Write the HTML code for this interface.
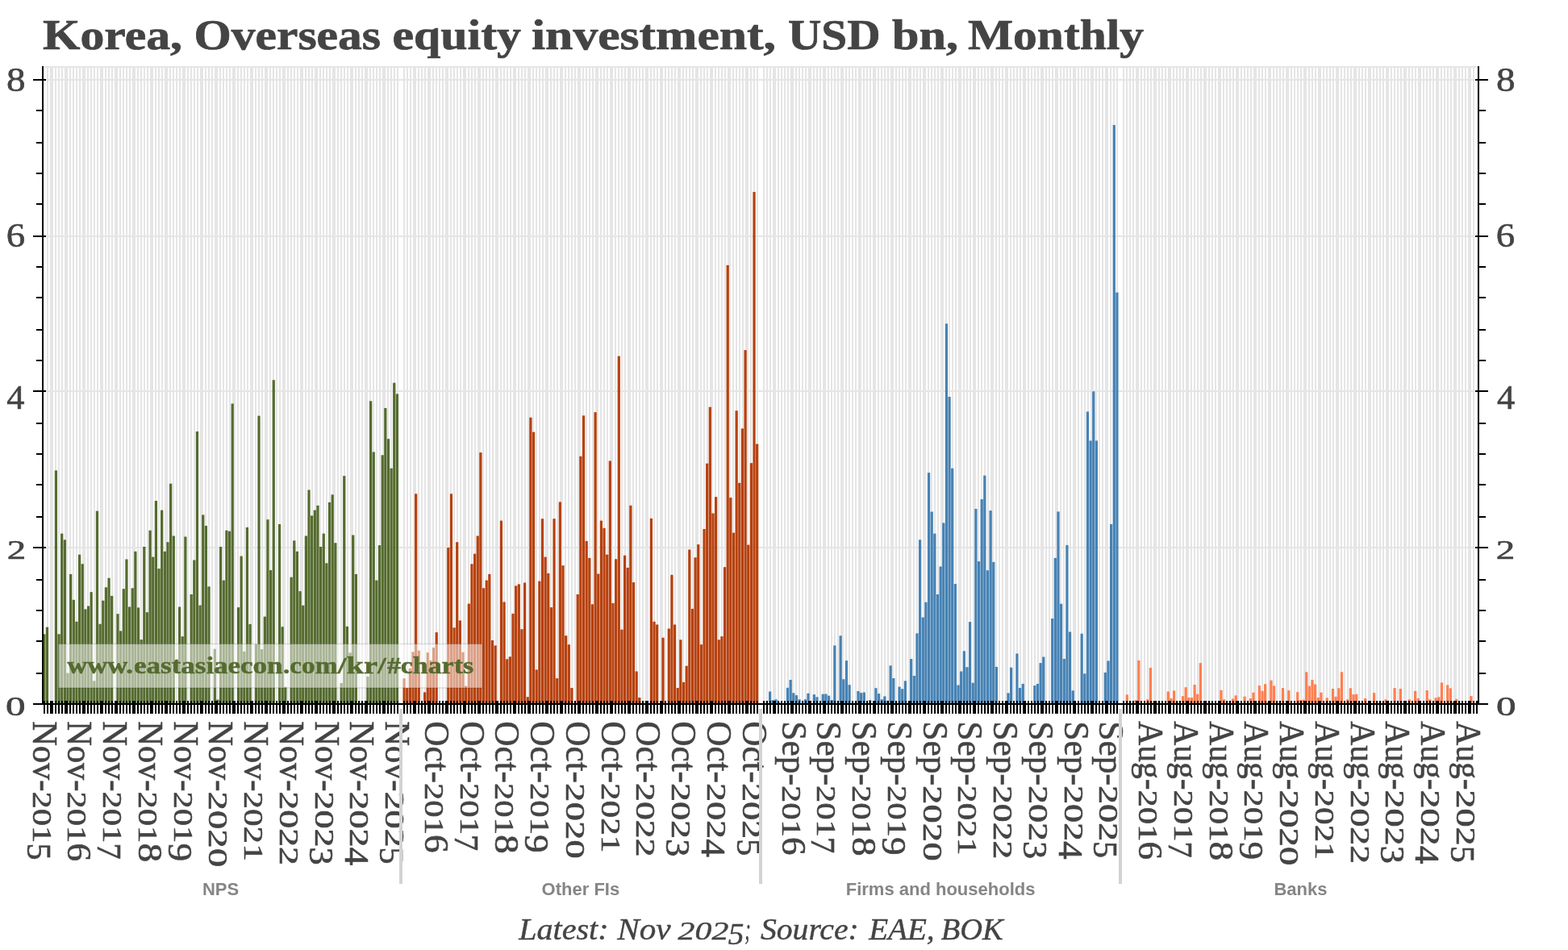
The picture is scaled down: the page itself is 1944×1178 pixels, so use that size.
<!DOCTYPE html>
<html lang="en"><head><meta charset="utf-8"><title>Korea, Overseas equity investment, USD bn, Monthly</title>
<style>html,body{margin:0;padding:0;background:#fff;}body{width:1944px;height:1178px;overflow:hidden;}svg{display:block;}.ser{font-family:"Liberation Serif","DejaVu Serif",serif;}.san{font-family:"Liberation Sans","DejaVu Sans",sans-serif;}</style></head><body>
<svg width="1944" height="1178" viewBox="0 0 1944 1178" role="img" aria-label="Korea, Overseas equity investment, USD bn, Monthly">
<rect width="1944" height="1178" fill="#fff"/>
<g fill="#e5e5e5" shape-rendering="crispEdges">
<rect x="54" y="84" width="2" height="788" fill="#f3f3f3"/>
<rect x="58" y="84" width="2" height="788"/>
<rect x="62" y="84" width="2" height="788"/>
<rect x="64" y="84" width="2" height="788"/>
<rect x="68" y="84" width="2" height="788"/>
<rect x="72" y="84" width="2" height="788"/>
<rect x="76" y="84" width="2" height="788"/>
<rect x="80" y="84" width="2" height="788"/>
<rect x="82" y="84" width="2" height="788"/>
<rect x="86" y="84" width="2" height="788"/>
<rect x="90" y="84" width="2" height="788"/>
<rect x="94" y="84" width="2" height="788"/>
<rect x="98" y="84" width="2" height="788"/>
<rect x="102" y="84" width="2" height="788"/>
<rect x="104" y="84" width="2" height="788"/>
<rect x="108" y="84" width="2" height="788"/>
<rect x="112" y="84" width="2" height="788"/>
<rect x="116" y="84" width="2" height="788"/>
<rect x="120" y="84" width="2" height="788"/>
<rect x="124" y="84" width="2" height="788"/>
<rect x="126" y="84" width="2" height="788"/>
<rect x="130" y="84" width="2" height="788"/>
<rect x="134" y="84" width="2" height="788"/>
<rect x="138" y="84" width="2" height="788"/>
<rect x="142" y="84" width="2" height="788"/>
<rect x="144" y="84" width="2" height="788"/>
<rect x="148" y="84" width="2" height="788"/>
<rect x="152" y="84" width="2" height="788"/>
<rect x="156" y="84" width="2" height="788"/>
<rect x="160" y="84" width="2" height="788"/>
<rect x="164" y="84" width="2" height="788"/>
<rect x="166" y="84" width="2" height="788"/>
<rect x="170" y="84" width="2" height="788"/>
<rect x="174" y="84" width="2" height="788"/>
<rect x="178" y="84" width="2" height="788"/>
<rect x="182" y="84" width="2" height="788"/>
<rect x="186" y="84" width="2" height="788"/>
<rect x="188" y="84" width="2" height="788"/>
<rect x="192" y="84" width="2" height="788"/>
<rect x="196" y="84" width="2" height="788"/>
<rect x="200" y="84" width="2" height="788"/>
<rect x="204" y="84" width="2" height="788"/>
<rect x="206" y="84" width="2" height="788"/>
<rect x="210" y="84" width="2" height="788"/>
<rect x="214" y="84" width="2" height="788"/>
<rect x="218" y="84" width="2" height="788"/>
<rect x="222" y="84" width="2" height="788"/>
<rect x="226" y="84" width="2" height="788"/>
<rect x="228" y="84" width="2" height="788"/>
<rect x="232" y="84" width="2" height="788"/>
<rect x="236" y="84" width="2" height="788"/>
<rect x="240" y="84" width="2" height="788"/>
<rect x="244" y="84" width="2" height="788"/>
<rect x="248" y="84" width="2" height="788"/>
<rect x="250" y="84" width="2" height="788"/>
<rect x="254" y="84" width="2" height="788"/>
<rect x="258" y="84" width="2" height="788"/>
<rect x="262" y="84" width="2" height="788"/>
<rect x="266" y="84" width="2" height="788"/>
<rect x="268" y="84" width="2" height="788"/>
<rect x="272" y="84" width="2" height="788"/>
<rect x="276" y="84" width="2" height="788"/>
<rect x="280" y="84" width="2" height="788"/>
<rect x="284" y="84" width="2" height="788"/>
<rect x="288" y="84" width="2" height="788"/>
<rect x="290" y="84" width="2" height="788"/>
<rect x="294" y="84" width="2" height="788"/>
<rect x="298" y="84" width="2" height="788"/>
<rect x="302" y="84" width="2" height="788"/>
<rect x="306" y="84" width="2" height="788"/>
<rect x="310" y="84" width="2" height="788"/>
<rect x="312" y="84" width="2" height="788"/>
<rect x="316" y="84" width="2" height="788"/>
<rect x="320" y="84" width="2" height="788"/>
<rect x="324" y="84" width="2" height="788"/>
<rect x="328" y="84" width="2" height="788"/>
<rect x="330" y="84" width="2" height="788"/>
<rect x="334" y="84" width="2" height="788"/>
<rect x="338" y="84" width="2" height="788"/>
<rect x="342" y="84" width="2" height="788"/>
<rect x="346" y="84" width="2" height="788"/>
<rect x="350" y="84" width="2" height="788"/>
<rect x="352" y="84" width="2" height="788"/>
<rect x="356" y="84" width="2" height="788"/>
<rect x="360" y="84" width="2" height="788"/>
<rect x="364" y="84" width="2" height="788"/>
<rect x="368" y="84" width="2" height="788"/>
<rect x="372" y="84" width="2" height="788"/>
<rect x="374" y="84" width="2" height="788"/>
<rect x="378" y="84" width="2" height="788"/>
<rect x="382" y="84" width="2" height="788"/>
<rect x="386" y="84" width="2" height="788"/>
<rect x="390" y="84" width="2" height="788"/>
<rect x="392" y="84" width="2" height="788"/>
<rect x="396" y="84" width="2" height="788"/>
<rect x="400" y="84" width="2" height="788"/>
<rect x="404" y="84" width="2" height="788"/>
<rect x="408" y="84" width="2" height="788"/>
<rect x="412" y="84" width="2" height="788"/>
<rect x="414" y="84" width="2" height="788"/>
<rect x="418" y="84" width="2" height="788"/>
<rect x="422" y="84" width="2" height="788"/>
<rect x="426" y="84" width="2" height="788"/>
<rect x="430" y="84" width="2" height="788"/>
<rect x="434" y="84" width="2" height="788"/>
<rect x="436" y="84" width="2" height="788"/>
<rect x="440" y="84" width="2" height="788"/>
<rect x="444" y="84" width="2" height="788"/>
<rect x="448" y="84" width="2" height="788"/>
<rect x="452" y="84" width="2" height="788"/>
<rect x="454" y="84" width="2" height="788"/>
<rect x="458" y="84" width="2" height="788"/>
<rect x="462" y="84" width="2" height="788"/>
<rect x="466" y="84" width="2" height="788"/>
<rect x="470" y="84" width="2" height="788"/>
<rect x="474" y="84" width="2" height="788"/>
<rect x="476" y="84" width="2" height="788"/>
<rect x="480" y="84" width="2" height="788"/>
<rect x="484" y="84" width="2" height="788"/>
<rect x="488" y="84" width="2" height="788"/>
<rect x="492" y="84" width="2" height="788"/>
<rect x="500" y="84" width="2" height="788"/>
<rect x="504" y="84" width="2" height="788"/>
<rect x="508" y="84" width="2" height="788"/>
<rect x="512" y="84" width="2" height="788"/>
<rect x="514" y="84" width="2" height="788"/>
<rect x="518" y="84" width="2" height="788"/>
<rect x="522" y="84" width="2" height="788"/>
<rect x="526" y="84" width="2" height="788"/>
<rect x="530" y="84" width="2" height="788"/>
<rect x="532" y="84" width="2" height="788"/>
<rect x="536" y="84" width="2" height="788"/>
<rect x="540" y="84" width="2" height="788"/>
<rect x="544" y="84" width="2" height="788"/>
<rect x="548" y="84" width="2" height="788"/>
<rect x="552" y="84" width="2" height="788"/>
<rect x="554" y="84" width="2" height="788"/>
<rect x="558" y="84" width="2" height="788"/>
<rect x="562" y="84" width="2" height="788"/>
<rect x="566" y="84" width="2" height="788"/>
<rect x="570" y="84" width="2" height="788"/>
<rect x="574" y="84" width="2" height="788"/>
<rect x="576" y="84" width="2" height="788"/>
<rect x="580" y="84" width="2" height="788"/>
<rect x="584" y="84" width="2" height="788"/>
<rect x="588" y="84" width="2" height="788"/>
<rect x="592" y="84" width="2" height="788"/>
<rect x="594" y="84" width="2" height="788"/>
<rect x="598" y="84" width="2" height="788"/>
<rect x="602" y="84" width="2" height="788"/>
<rect x="606" y="84" width="2" height="788"/>
<rect x="610" y="84" width="2" height="788"/>
<rect x="614" y="84" width="2" height="788"/>
<rect x="616" y="84" width="2" height="788"/>
<rect x="620" y="84" width="2" height="788"/>
<rect x="624" y="84" width="2" height="788"/>
<rect x="628" y="84" width="2" height="788"/>
<rect x="632" y="84" width="2" height="788"/>
<rect x="636" y="84" width="2" height="788"/>
<rect x="638" y="84" width="2" height="788"/>
<rect x="642" y="84" width="2" height="788"/>
<rect x="646" y="84" width="2" height="788"/>
<rect x="650" y="84" width="2" height="788"/>
<rect x="654" y="84" width="2" height="788"/>
<rect x="656" y="84" width="2" height="788"/>
<rect x="660" y="84" width="2" height="788"/>
<rect x="664" y="84" width="2" height="788"/>
<rect x="668" y="84" width="2" height="788"/>
<rect x="672" y="84" width="2" height="788"/>
<rect x="676" y="84" width="2" height="788"/>
<rect x="678" y="84" width="2" height="788"/>
<rect x="682" y="84" width="2" height="788"/>
<rect x="686" y="84" width="2" height="788"/>
<rect x="690" y="84" width="2" height="788"/>
<rect x="694" y="84" width="2" height="788"/>
<rect x="696" y="84" width="2" height="788"/>
<rect x="700" y="84" width="2" height="788"/>
<rect x="704" y="84" width="2" height="788"/>
<rect x="708" y="84" width="2" height="788"/>
<rect x="712" y="84" width="2" height="788"/>
<rect x="716" y="84" width="2" height="788"/>
<rect x="718" y="84" width="2" height="788"/>
<rect x="722" y="84" width="2" height="788"/>
<rect x="726" y="84" width="2" height="788"/>
<rect x="730" y="84" width="2" height="788"/>
<rect x="734" y="84" width="2" height="788"/>
<rect x="738" y="84" width="2" height="788"/>
<rect x="740" y="84" width="2" height="788"/>
<rect x="744" y="84" width="2" height="788"/>
<rect x="748" y="84" width="2" height="788"/>
<rect x="752" y="84" width="2" height="788"/>
<rect x="756" y="84" width="2" height="788"/>
<rect x="758" y="84" width="2" height="788"/>
<rect x="762" y="84" width="2" height="788"/>
<rect x="766" y="84" width="2" height="788"/>
<rect x="770" y="84" width="2" height="788"/>
<rect x="774" y="84" width="2" height="788"/>
<rect x="778" y="84" width="2" height="788"/>
<rect x="780" y="84" width="2" height="788"/>
<rect x="784" y="84" width="2" height="788"/>
<rect x="788" y="84" width="2" height="788"/>
<rect x="792" y="84" width="2" height="788"/>
<rect x="796" y="84" width="2" height="788"/>
<rect x="800" y="84" width="2" height="788"/>
<rect x="802" y="84" width="2" height="788"/>
<rect x="806" y="84" width="2" height="788"/>
<rect x="810" y="84" width="2" height="788"/>
<rect x="814" y="84" width="2" height="788"/>
<rect x="818" y="84" width="2" height="788"/>
<rect x="820" y="84" width="2" height="788"/>
<rect x="824" y="84" width="2" height="788"/>
<rect x="828" y="84" width="2" height="788"/>
<rect x="832" y="84" width="2" height="788"/>
<rect x="836" y="84" width="2" height="788"/>
<rect x="840" y="84" width="2" height="788"/>
<rect x="842" y="84" width="2" height="788"/>
<rect x="846" y="84" width="2" height="788"/>
<rect x="850" y="84" width="2" height="788"/>
<rect x="854" y="84" width="2" height="788"/>
<rect x="858" y="84" width="2" height="788"/>
<rect x="862" y="84" width="2" height="788"/>
<rect x="864" y="84" width="2" height="788"/>
<rect x="868" y="84" width="2" height="788"/>
<rect x="872" y="84" width="2" height="788"/>
<rect x="876" y="84" width="2" height="788"/>
<rect x="880" y="84" width="2" height="788"/>
<rect x="882" y="84" width="2" height="788"/>
<rect x="886" y="84" width="2" height="788"/>
<rect x="890" y="84" width="2" height="788"/>
<rect x="894" y="84" width="2" height="788"/>
<rect x="898" y="84" width="2" height="788"/>
<rect x="902" y="84" width="2" height="788"/>
<rect x="904" y="84" width="2" height="788"/>
<rect x="908" y="84" width="2" height="788"/>
<rect x="912" y="84" width="2" height="788"/>
<rect x="916" y="84" width="2" height="788"/>
<rect x="920" y="84" width="2" height="788"/>
<rect x="924" y="84" width="2" height="788"/>
<rect x="926" y="84" width="2" height="788"/>
<rect x="930" y="84" width="2" height="788"/>
<rect x="934" y="84" width="2" height="788"/>
<rect x="938" y="84" width="2" height="788"/>
<rect x="946" y="84" width="2" height="788"/>
<rect x="950" y="84" width="2" height="788"/>
<rect x="954" y="84" width="2" height="788"/>
<rect x="958" y="84" width="2" height="788"/>
<rect x="960" y="84" width="2" height="788"/>
<rect x="964" y="84" width="2" height="788"/>
<rect x="968" y="84" width="2" height="788"/>
<rect x="972" y="84" width="2" height="788"/>
<rect x="976" y="84" width="2" height="788"/>
<rect x="980" y="84" width="2" height="788"/>
<rect x="982" y="84" width="2" height="788"/>
<rect x="986" y="84" width="2" height="788"/>
<rect x="990" y="84" width="2" height="788"/>
<rect x="994" y="84" width="2" height="788"/>
<rect x="998" y="84" width="2" height="788"/>
<rect x="1002" y="84" width="2" height="788"/>
<rect x="1004" y="84" width="2" height="788"/>
<rect x="1008" y="84" width="2" height="788"/>
<rect x="1012" y="84" width="2" height="788"/>
<rect x="1016" y="84" width="2" height="788"/>
<rect x="1020" y="84" width="2" height="788"/>
<rect x="1022" y="84" width="2" height="788"/>
<rect x="1026" y="84" width="2" height="788"/>
<rect x="1030" y="84" width="2" height="788"/>
<rect x="1034" y="84" width="2" height="788"/>
<rect x="1038" y="84" width="2" height="788"/>
<rect x="1042" y="84" width="2" height="788"/>
<rect x="1044" y="84" width="2" height="788"/>
<rect x="1048" y="84" width="2" height="788"/>
<rect x="1052" y="84" width="2" height="788"/>
<rect x="1056" y="84" width="2" height="788"/>
<rect x="1060" y="84" width="2" height="788"/>
<rect x="1064" y="84" width="2" height="788"/>
<rect x="1066" y="84" width="2" height="788"/>
<rect x="1070" y="84" width="2" height="788"/>
<rect x="1074" y="84" width="2" height="788"/>
<rect x="1078" y="84" width="2" height="788"/>
<rect x="1082" y="84" width="2" height="788"/>
<rect x="1084" y="84" width="2" height="788"/>
<rect x="1088" y="84" width="2" height="788"/>
<rect x="1092" y="84" width="2" height="788"/>
<rect x="1096" y="84" width="2" height="788"/>
<rect x="1100" y="84" width="2" height="788"/>
<rect x="1104" y="84" width="2" height="788"/>
<rect x="1106" y="84" width="2" height="788"/>
<rect x="1110" y="84" width="2" height="788"/>
<rect x="1114" y="84" width="2" height="788"/>
<rect x="1118" y="84" width="2" height="788"/>
<rect x="1122" y="84" width="2" height="788"/>
<rect x="1126" y="84" width="2" height="788"/>
<rect x="1128" y="84" width="2" height="788"/>
<rect x="1132" y="84" width="2" height="788"/>
<rect x="1136" y="84" width="2" height="788"/>
<rect x="1140" y="84" width="2" height="788"/>
<rect x="1144" y="84" width="2" height="788"/>
<rect x="1146" y="84" width="2" height="788"/>
<rect x="1150" y="84" width="2" height="788"/>
<rect x="1154" y="84" width="2" height="788"/>
<rect x="1158" y="84" width="2" height="788"/>
<rect x="1162" y="84" width="2" height="788"/>
<rect x="1166" y="84" width="2" height="788"/>
<rect x="1168" y="84" width="2" height="788"/>
<rect x="1172" y="84" width="2" height="788"/>
<rect x="1176" y="84" width="2" height="788"/>
<rect x="1180" y="84" width="2" height="788"/>
<rect x="1184" y="84" width="2" height="788"/>
<rect x="1188" y="84" width="2" height="788"/>
<rect x="1190" y="84" width="2" height="788"/>
<rect x="1194" y="84" width="2" height="788"/>
<rect x="1198" y="84" width="2" height="788"/>
<rect x="1202" y="84" width="2" height="788"/>
<rect x="1206" y="84" width="2" height="788"/>
<rect x="1208" y="84" width="2" height="788"/>
<rect x="1212" y="84" width="2" height="788"/>
<rect x="1216" y="84" width="2" height="788"/>
<rect x="1220" y="84" width="2" height="788"/>
<rect x="1224" y="84" width="2" height="788"/>
<rect x="1228" y="84" width="2" height="788"/>
<rect x="1230" y="84" width="2" height="788"/>
<rect x="1234" y="84" width="2" height="788"/>
<rect x="1238" y="84" width="2" height="788"/>
<rect x="1242" y="84" width="2" height="788"/>
<rect x="1246" y="84" width="2" height="788"/>
<rect x="1248" y="84" width="2" height="788"/>
<rect x="1252" y="84" width="2" height="788"/>
<rect x="1256" y="84" width="2" height="788"/>
<rect x="1260" y="84" width="2" height="788"/>
<rect x="1264" y="84" width="2" height="788"/>
<rect x="1268" y="84" width="2" height="788"/>
<rect x="1270" y="84" width="2" height="788"/>
<rect x="1274" y="84" width="2" height="788"/>
<rect x="1278" y="84" width="2" height="788"/>
<rect x="1282" y="84" width="2" height="788"/>
<rect x="1286" y="84" width="2" height="788"/>
<rect x="1290" y="84" width="2" height="788"/>
<rect x="1292" y="84" width="2" height="788"/>
<rect x="1296" y="84" width="2" height="788"/>
<rect x="1300" y="84" width="2" height="788"/>
<rect x="1304" y="84" width="2" height="788"/>
<rect x="1308" y="84" width="2" height="788"/>
<rect x="1310" y="84" width="2" height="788"/>
<rect x="1314" y="84" width="2" height="788"/>
<rect x="1318" y="84" width="2" height="788"/>
<rect x="1322" y="84" width="2" height="788"/>
<rect x="1326" y="84" width="2" height="788"/>
<rect x="1330" y="84" width="2" height="788"/>
<rect x="1332" y="84" width="2" height="788"/>
<rect x="1336" y="84" width="2" height="788"/>
<rect x="1340" y="84" width="2" height="788"/>
<rect x="1344" y="84" width="2" height="788"/>
<rect x="1348" y="84" width="2" height="788"/>
<rect x="1352" y="84" width="2" height="788"/>
<rect x="1354" y="84" width="2" height="788"/>
<rect x="1358" y="84" width="2" height="788"/>
<rect x="1362" y="84" width="2" height="788"/>
<rect x="1366" y="84" width="2" height="788"/>
<rect x="1370" y="84" width="2" height="788"/>
<rect x="1372" y="84" width="2" height="788"/>
<rect x="1376" y="84" width="2" height="788"/>
<rect x="1380" y="84" width="2" height="788"/>
<rect x="1384" y="84" width="2" height="788"/>
<rect x="1392" y="84" width="2" height="788"/>
<rect x="1396" y="84" width="2" height="788"/>
<rect x="1400" y="84" width="2" height="788"/>
<rect x="1404" y="84" width="2" height="788"/>
<rect x="1408" y="84" width="2" height="788"/>
<rect x="1410" y="84" width="2" height="788"/>
<rect x="1414" y="84" width="2" height="788"/>
<rect x="1418" y="84" width="2" height="788"/>
<rect x="1422" y="84" width="2" height="788"/>
<rect x="1426" y="84" width="2" height="788"/>
<rect x="1430" y="84" width="2" height="788"/>
<rect x="1432" y="84" width="2" height="788"/>
<rect x="1436" y="84" width="2" height="788"/>
<rect x="1440" y="84" width="2" height="788"/>
<rect x="1444" y="84" width="2" height="788"/>
<rect x="1448" y="84" width="2" height="788"/>
<rect x="1450" y="84" width="2" height="788"/>
<rect x="1454" y="84" width="2" height="788"/>
<rect x="1458" y="84" width="2" height="788"/>
<rect x="1462" y="84" width="2" height="788"/>
<rect x="1466" y="84" width="2" height="788"/>
<rect x="1470" y="84" width="2" height="788"/>
<rect x="1472" y="84" width="2" height="788"/>
<rect x="1476" y="84" width="2" height="788"/>
<rect x="1480" y="84" width="2" height="788"/>
<rect x="1484" y="84" width="2" height="788"/>
<rect x="1488" y="84" width="2" height="788"/>
<rect x="1492" y="84" width="2" height="788"/>
<rect x="1494" y="84" width="2" height="788"/>
<rect x="1498" y="84" width="2" height="788"/>
<rect x="1502" y="84" width="2" height="788"/>
<rect x="1506" y="84" width="2" height="788"/>
<rect x="1510" y="84" width="2" height="788"/>
<rect x="1512" y="84" width="2" height="788"/>
<rect x="1516" y="84" width="2" height="788"/>
<rect x="1520" y="84" width="2" height="788"/>
<rect x="1524" y="84" width="2" height="788"/>
<rect x="1528" y="84" width="2" height="788"/>
<rect x="1532" y="84" width="2" height="788"/>
<rect x="1534" y="84" width="2" height="788"/>
<rect x="1538" y="84" width="2" height="788"/>
<rect x="1542" y="84" width="2" height="788"/>
<rect x="1546" y="84" width="2" height="788"/>
<rect x="1550" y="84" width="2" height="788"/>
<rect x="1554" y="84" width="2" height="788"/>
<rect x="1556" y="84" width="2" height="788"/>
<rect x="1560" y="84" width="2" height="788"/>
<rect x="1564" y="84" width="2" height="788"/>
<rect x="1568" y="84" width="2" height="788"/>
<rect x="1572" y="84" width="2" height="788"/>
<rect x="1574" y="84" width="2" height="788"/>
<rect x="1578" y="84" width="2" height="788"/>
<rect x="1582" y="84" width="2" height="788"/>
<rect x="1586" y="84" width="2" height="788"/>
<rect x="1590" y="84" width="2" height="788"/>
<rect x="1594" y="84" width="2" height="788"/>
<rect x="1596" y="84" width="2" height="788"/>
<rect x="1600" y="84" width="2" height="788"/>
<rect x="1604" y="84" width="2" height="788"/>
<rect x="1608" y="84" width="2" height="788"/>
<rect x="1612" y="84" width="2" height="788"/>
<rect x="1616" y="84" width="2" height="788"/>
<rect x="1618" y="84" width="2" height="788"/>
<rect x="1622" y="84" width="2" height="788"/>
<rect x="1626" y="84" width="2" height="788"/>
<rect x="1630" y="84" width="2" height="788"/>
<rect x="1634" y="84" width="2" height="788"/>
<rect x="1636" y="84" width="2" height="788"/>
<rect x="1640" y="84" width="2" height="788"/>
<rect x="1644" y="84" width="2" height="788"/>
<rect x="1648" y="84" width="2" height="788"/>
<rect x="1652" y="84" width="2" height="788"/>
<rect x="1656" y="84" width="2" height="788"/>
<rect x="1658" y="84" width="2" height="788"/>
<rect x="1662" y="84" width="2" height="788"/>
<rect x="1666" y="84" width="2" height="788"/>
<rect x="1670" y="84" width="2" height="788"/>
<rect x="1674" y="84" width="2" height="788"/>
<rect x="1678" y="84" width="2" height="788"/>
<rect x="1680" y="84" width="2" height="788"/>
<rect x="1684" y="84" width="2" height="788"/>
<rect x="1688" y="84" width="2" height="788"/>
<rect x="1692" y="84" width="2" height="788"/>
<rect x="1696" y="84" width="2" height="788"/>
<rect x="1698" y="84" width="2" height="788"/>
<rect x="1702" y="84" width="2" height="788"/>
<rect x="1706" y="84" width="2" height="788"/>
<rect x="1710" y="84" width="2" height="788"/>
<rect x="1714" y="84" width="2" height="788"/>
<rect x="1718" y="84" width="2" height="788"/>
<rect x="1720" y="84" width="2" height="788"/>
<rect x="1724" y="84" width="2" height="788"/>
<rect x="1728" y="84" width="2" height="788"/>
<rect x="1732" y="84" width="2" height="788"/>
<rect x="1736" y="84" width="2" height="788"/>
<rect x="1740" y="84" width="2" height="788"/>
<rect x="1742" y="84" width="2" height="788"/>
<rect x="1746" y="84" width="2" height="788"/>
<rect x="1750" y="84" width="2" height="788"/>
<rect x="1754" y="84" width="2" height="788"/>
<rect x="1758" y="84" width="2" height="788"/>
<rect x="1760" y="84" width="2" height="788"/>
<rect x="1764" y="84" width="2" height="788"/>
<rect x="1768" y="84" width="2" height="788"/>
<rect x="1772" y="84" width="2" height="788"/>
<rect x="1776" y="84" width="2" height="788"/>
<rect x="1780" y="84" width="2" height="788"/>
<rect x="1782" y="84" width="2" height="788"/>
<rect x="1786" y="84" width="2" height="788"/>
<rect x="1790" y="84" width="2" height="788"/>
<rect x="1794" y="84" width="2" height="788"/>
<rect x="1798" y="84" width="2" height="788"/>
<rect x="1802" y="84" width="2" height="788"/>
<rect x="1804" y="84" width="2" height="788"/>
<rect x="1808" y="84" width="2" height="788"/>
<rect x="1812" y="84" width="2" height="788"/>
<rect x="1816" y="84" width="2" height="788"/>
<rect x="1820" y="84" width="2" height="788"/>
<rect x="1822" y="84" width="2" height="788"/>
<rect x="1826" y="84" width="2" height="788"/>
<rect x="1830" y="84" width="2" height="788" fill="#f3f3f3"/>
<rect x="54" y="678" width="1778" height="2"/>
<rect x="54" y="484" width="1778" height="2"/>
<rect x="54" y="292" width="1778" height="2"/>
<rect x="54" y="98" width="1778" height="2"/>
<rect x="54" y="82" width="1778" height="2"/>
</g>
<g fill="#556B2F">
<rect x="53.20" y="786.3" width="3.25" height="86.0"/>
<rect x="56.84" y="777.6" width="3.25" height="94.7"/>
<rect x="67.78" y="583.3" width="3.25" height="289.0"/>
<rect x="71.43" y="786.3" width="3.25" height="86.0"/>
<rect x="75.08" y="661.6" width="3.25" height="210.7"/>
<rect x="78.72" y="669.3" width="3.25" height="203.0"/>
<rect x="82.37" y="834.6" width="3.25" height="37.7"/>
<rect x="86.02" y="711.9" width="3.25" height="160.5"/>
<rect x="89.66" y="743.8" width="3.25" height="128.6"/>
<rect x="93.31" y="770.8" width="3.25" height="101.5"/>
<rect x="96.96" y="687.7" width="3.25" height="184.6"/>
<rect x="100.60" y="699.3" width="3.25" height="173.0"/>
<rect x="104.25" y="755.4" width="3.25" height="117.0"/>
<rect x="107.90" y="751.5" width="3.25" height="120.8"/>
<rect x="111.54" y="734.1" width="3.25" height="138.2"/>
<rect x="115.19" y="844.3" width="3.25" height="28.0"/>
<rect x="118.84" y="633.6" width="3.25" height="238.8"/>
<rect x="122.48" y="773.7" width="3.25" height="98.6"/>
<rect x="126.13" y="744.7" width="3.25" height="127.6"/>
<rect x="129.78" y="728.3" width="3.25" height="144.0"/>
<rect x="133.42" y="716.7" width="3.25" height="155.6"/>
<rect x="137.07" y="738.9" width="3.25" height="133.4"/>
<rect x="144.36" y="761.2" width="3.25" height="111.2"/>
<rect x="148.01" y="782.4" width="3.25" height="89.9"/>
<rect x="151.66" y="730.2" width="3.25" height="142.1"/>
<rect x="155.30" y="693.5" width="3.25" height="178.8"/>
<rect x="158.95" y="752.5" width="3.25" height="119.9"/>
<rect x="162.60" y="729.3" width="3.25" height="143.1"/>
<rect x="166.24" y="683.8" width="3.25" height="188.5"/>
<rect x="169.89" y="753.4" width="3.25" height="118.9"/>
<rect x="173.54" y="793.1" width="3.25" height="79.3"/>
<rect x="177.18" y="678.0" width="3.25" height="194.3"/>
<rect x="180.83" y="759.2" width="3.25" height="113.1"/>
<rect x="184.48" y="657.7" width="3.25" height="214.6"/>
<rect x="188.12" y="690.6" width="3.25" height="181.7"/>
<rect x="191.77" y="621.0" width="3.25" height="251.3"/>
<rect x="195.42" y="705.1" width="3.25" height="167.2"/>
<rect x="199.06" y="632.6" width="3.25" height="239.7"/>
<rect x="202.71" y="683.8" width="3.25" height="188.5"/>
<rect x="206.36" y="672.2" width="3.25" height="200.1"/>
<rect x="210.00" y="599.7" width="3.25" height="272.6"/>
<rect x="213.65" y="664.5" width="3.25" height="207.8"/>
<rect x="220.94" y="752.5" width="3.25" height="119.9"/>
<rect x="224.59" y="789.2" width="3.25" height="83.1"/>
<rect x="228.24" y="665.5" width="3.25" height="206.9"/>
<rect x="235.53" y="737.0" width="3.25" height="135.3"/>
<rect x="239.17" y="694.5" width="3.25" height="177.9"/>
<rect x="242.82" y="535.0" width="3.25" height="337.4"/>
<rect x="246.47" y="750.5" width="3.25" height="121.8"/>
<rect x="250.11" y="638.4" width="3.25" height="233.9"/>
<rect x="253.76" y="651.9" width="3.25" height="220.4"/>
<rect x="257.41" y="727.3" width="3.25" height="145.0"/>
<rect x="264.70" y="804.7" width="3.25" height="67.7"/>
<rect x="268.35" y="867.5" width="3.25" height="4.8"/>
<rect x="271.99" y="678.0" width="3.25" height="194.3"/>
<rect x="275.64" y="719.6" width="3.25" height="152.7"/>
<rect x="279.29" y="657.7" width="3.25" height="214.6"/>
<rect x="282.93" y="658.7" width="3.25" height="213.6"/>
<rect x="286.58" y="500.5" width="3.25" height="371.8"/>
<rect x="293.87" y="753.1" width="3.25" height="119.2"/>
<rect x="297.52" y="689.6" width="3.25" height="182.7"/>
<rect x="301.17" y="807.8" width="3.25" height="64.6"/>
<rect x="304.81" y="653.9" width="3.25" height="218.5"/>
<rect x="308.46" y="773.9" width="3.25" height="98.4"/>
<rect x="315.75" y="798.9" width="3.25" height="73.5"/>
<rect x="319.40" y="515.6" width="3.25" height="356.7"/>
<rect x="323.05" y="805.1" width="3.25" height="67.2"/>
<rect x="326.69" y="764.6" width="3.25" height="107.7"/>
<rect x="330.34" y="644.2" width="3.25" height="228.1"/>
<rect x="333.99" y="707.0" width="3.25" height="165.3"/>
<rect x="337.63" y="471.2" width="3.25" height="401.2"/>
<rect x="344.93" y="650.0" width="3.25" height="222.3"/>
<rect x="348.57" y="777.2" width="3.25" height="95.1"/>
<rect x="352.22" y="851.7" width="3.25" height="20.6"/>
<rect x="359.51" y="715.7" width="3.25" height="156.6"/>
<rect x="363.16" y="670.3" width="3.25" height="202.0"/>
<rect x="366.81" y="683.8" width="3.25" height="188.5"/>
<rect x="370.45" y="733.1" width="3.25" height="139.2"/>
<rect x="374.10" y="750.7" width="3.25" height="121.6"/>
<rect x="377.75" y="664.5" width="3.25" height="207.8"/>
<rect x="381.39" y="607.5" width="3.25" height="264.9"/>
<rect x="385.04" y="639.4" width="3.25" height="233.0"/>
<rect x="388.69" y="632.6" width="3.25" height="239.7"/>
<rect x="392.33" y="626.8" width="3.25" height="245.5"/>
<rect x="395.98" y="678.0" width="3.25" height="194.3"/>
<rect x="399.63" y="661.6" width="3.25" height="210.7"/>
<rect x="403.27" y="698.3" width="3.25" height="174.0"/>
<rect x="406.92" y="622.9" width="3.25" height="249.4"/>
<rect x="410.57" y="613.3" width="3.25" height="259.1"/>
<rect x="414.21" y="673.2" width="3.25" height="199.1"/>
<rect x="421.50" y="847.0" width="3.25" height="25.3"/>
<rect x="425.15" y="590.1" width="3.25" height="282.3"/>
<rect x="428.80" y="776.8" width="3.25" height="95.5"/>
<rect x="432.44" y="809.3" width="3.25" height="63.0"/>
<rect x="436.09" y="663.5" width="3.25" height="208.8"/>
<rect x="439.74" y="711.9" width="3.25" height="160.5"/>
<rect x="454.32" y="838.9" width="3.25" height="33.4"/>
<rect x="457.97" y="497.3" width="3.25" height="375.1"/>
<rect x="461.62" y="560.5" width="3.25" height="311.8"/>
<rect x="465.26" y="719.6" width="3.25" height="152.7"/>
<rect x="468.91" y="676.1" width="3.25" height="196.2"/>
<rect x="472.56" y="564.3" width="3.25" height="308.1"/>
<rect x="476.20" y="506.0" width="3.25" height="366.4"/>
<rect x="479.85" y="544.2" width="3.25" height="328.1"/>
<rect x="483.50" y="580.7" width="3.25" height="291.6"/>
<rect x="487.14" y="474.7" width="3.25" height="397.6"/>
<rect x="490.79" y="488.4" width="3.25" height="384.0"/>
</g>
<g fill="#B7410E">
<rect x="499.45" y="841.2" width="3.25" height="31.1"/>
<rect x="503.10" y="853.1" width="3.25" height="19.2"/>
<rect x="506.75" y="828.8" width="3.25" height="43.5"/>
<rect x="510.39" y="808.3" width="3.25" height="64.0"/>
<rect x="514.04" y="612.3" width="3.25" height="260.0"/>
<rect x="517.69" y="806.6" width="3.25" height="65.7"/>
<rect x="524.98" y="858.4" width="3.25" height="13.9"/>
<rect x="528.62" y="809.1" width="3.25" height="63.2"/>
<rect x="532.27" y="818.9" width="3.25" height="53.5"/>
<rect x="535.92" y="803.1" width="3.25" height="69.2"/>
<rect x="539.56" y="784.1" width="3.25" height="88.3"/>
<rect x="554.15" y="679.0" width="3.25" height="193.3"/>
<rect x="557.80" y="612.3" width="3.25" height="260.0"/>
<rect x="561.44" y="778.3" width="3.25" height="94.1"/>
<rect x="565.09" y="672.2" width="3.25" height="200.1"/>
<rect x="568.74" y="769.4" width="3.25" height="103.0"/>
<rect x="572.38" y="808.7" width="3.25" height="63.6"/>
<rect x="576.03" y="850.6" width="3.25" height="21.8"/>
<rect x="579.68" y="748.6" width="3.25" height="123.7"/>
<rect x="583.32" y="699.3" width="3.25" height="173.0"/>
<rect x="586.97" y="686.7" width="3.25" height="185.6"/>
<rect x="590.62" y="664.5" width="3.25" height="207.8"/>
<rect x="594.26" y="561.1" width="3.25" height="311.3"/>
<rect x="597.91" y="729.3" width="3.25" height="143.1"/>
<rect x="601.56" y="719.6" width="3.25" height="152.7"/>
<rect x="605.20" y="711.9" width="3.25" height="160.5"/>
<rect x="608.85" y="794.0" width="3.25" height="78.3"/>
<rect x="612.50" y="800.4" width="3.25" height="71.9"/>
<rect x="619.79" y="645.6" width="3.25" height="226.7"/>
<rect x="623.44" y="746.4" width="3.25" height="126.0"/>
<rect x="627.08" y="817.3" width="3.25" height="55.0"/>
<rect x="630.73" y="814.3" width="3.25" height="58.0"/>
<rect x="634.38" y="760.9" width="3.25" height="111.5"/>
<rect x="638.02" y="726.4" width="3.25" height="146.0"/>
<rect x="641.67" y="724.4" width="3.25" height="147.9"/>
<rect x="645.32" y="780.2" width="3.25" height="92.1"/>
<rect x="648.96" y="722.5" width="3.25" height="149.8"/>
<rect x="652.61" y="864.2" width="3.25" height="8.1"/>
<rect x="656.26" y="517.7" width="3.25" height="354.7"/>
<rect x="659.90" y="535.7" width="3.25" height="336.6"/>
<rect x="663.55" y="830.4" width="3.25" height="42.0"/>
<rect x="667.20" y="720.6" width="3.25" height="151.8"/>
<rect x="670.84" y="643.2" width="3.25" height="229.1"/>
<rect x="674.49" y="690.6" width="3.25" height="181.7"/>
<rect x="678.14" y="710.9" width="3.25" height="161.4"/>
<rect x="681.78" y="753.1" width="3.25" height="119.2"/>
<rect x="685.43" y="643.2" width="3.25" height="229.1"/>
<rect x="689.08" y="841.1" width="3.25" height="31.2"/>
<rect x="692.72" y="622.4" width="3.25" height="249.9"/>
<rect x="696.37" y="701.2" width="3.25" height="171.1"/>
<rect x="700.02" y="788.2" width="3.25" height="84.1"/>
<rect x="703.66" y="799.2" width="3.25" height="73.1"/>
<rect x="707.31" y="853.0" width="3.25" height="19.3"/>
<rect x="714.60" y="737.0" width="3.25" height="135.3"/>
<rect x="718.25" y="565.8" width="3.25" height="306.5"/>
<rect x="721.89" y="515.3" width="3.25" height="357.0"/>
<rect x="725.54" y="670.9" width="3.25" height="201.5"/>
<rect x="729.19" y="691.9" width="3.25" height="180.5"/>
<rect x="732.83" y="749.3" width="3.25" height="123.1"/>
<rect x="736.48" y="511.1" width="3.25" height="361.2"/>
<rect x="740.13" y="711.5" width="3.25" height="160.9"/>
<rect x="743.77" y="645.6" width="3.25" height="226.7"/>
<rect x="747.42" y="654.8" width="3.25" height="217.5"/>
<rect x="751.07" y="687.7" width="3.25" height="184.6"/>
<rect x="754.71" y="571.5" width="3.25" height="300.8"/>
<rect x="758.36" y="747.9" width="3.25" height="124.4"/>
<rect x="762.01" y="693.3" width="3.25" height="179.0"/>
<rect x="765.65" y="441.6" width="3.25" height="430.7"/>
<rect x="769.30" y="780.7" width="3.25" height="91.6"/>
<rect x="772.95" y="688.7" width="3.25" height="183.7"/>
<rect x="776.59" y="703.9" width="3.25" height="168.4"/>
<rect x="780.24" y="626.8" width="3.25" height="245.5"/>
<rect x="783.89" y="722.1" width="3.25" height="150.2"/>
<rect x="787.53" y="832.5" width="3.25" height="39.8"/>
<rect x="791.18" y="865.0" width="3.25" height="7.3"/>
<rect x="805.77" y="642.8" width="3.25" height="229.5"/>
<rect x="809.41" y="770.8" width="3.25" height="101.5"/>
<rect x="813.06" y="774.5" width="3.25" height="97.8"/>
<rect x="820.35" y="790.7" width="3.25" height="81.6"/>
<rect x="827.65" y="779.5" width="3.25" height="92.8"/>
<rect x="831.29" y="712.8" width="3.25" height="159.5"/>
<rect x="834.94" y="774.5" width="3.25" height="97.8"/>
<rect x="838.59" y="853.0" width="3.25" height="19.3"/>
<rect x="842.23" y="793.3" width="3.25" height="79.1"/>
<rect x="845.88" y="845.9" width="3.25" height="26.4"/>
<rect x="849.53" y="825.7" width="3.25" height="46.6"/>
<rect x="853.17" y="681.5" width="3.25" height="190.8"/>
<rect x="856.82" y="754.9" width="3.25" height="117.5"/>
<rect x="860.47" y="691.3" width="3.25" height="181.1"/>
<rect x="864.11" y="675.1" width="3.25" height="197.2"/>
<rect x="867.76" y="799.2" width="3.25" height="73.2"/>
<rect x="871.41" y="656.0" width="3.25" height="216.3"/>
<rect x="875.05" y="574.7" width="3.25" height="297.6"/>
<rect x="878.70" y="504.7" width="3.25" height="367.6"/>
<rect x="882.35" y="636.5" width="3.25" height="235.9"/>
<rect x="885.99" y="616.2" width="3.25" height="256.2"/>
<rect x="889.64" y="793.3" width="3.25" height="79.1"/>
<rect x="893.28" y="789.1" width="3.25" height="83.2"/>
<rect x="896.93" y="703.2" width="3.25" height="169.2"/>
<rect x="900.58" y="328.8" width="3.25" height="543.6"/>
<rect x="904.22" y="617.1" width="3.25" height="255.2"/>
<rect x="907.87" y="660.6" width="3.25" height="211.7"/>
<rect x="911.52" y="509.2" width="3.25" height="363.1"/>
<rect x="915.16" y="598.8" width="3.25" height="273.6"/>
<rect x="918.81" y="531.4" width="3.25" height="340.9"/>
<rect x="922.46" y="434.1" width="3.25" height="438.2"/>
<rect x="926.10" y="675.6" width="3.25" height="196.7"/>
<rect x="929.75" y="574.2" width="3.25" height="298.1"/>
<rect x="933.40" y="238.0" width="3.25" height="634.3"/>
<rect x="937.04" y="550.5" width="3.25" height="321.8"/>
</g>
<g fill="#4682B4">
<rect x="953.00" y="857.5" width="3.25" height="14.8"/>
<rect x="956.65" y="868.2" width="3.25" height="4.2"/>
<rect x="960.29" y="867.2" width="3.25" height="5.1"/>
<rect x="963.94" y="870.9" width="3.25" height="1.5"/>
<rect x="974.88" y="852.8" width="3.25" height="19.5"/>
<rect x="978.53" y="843.0" width="3.25" height="29.3"/>
<rect x="982.17" y="859.3" width="3.25" height="13.1"/>
<rect x="985.82" y="862.1" width="3.25" height="10.2"/>
<rect x="989.47" y="867.2" width="3.25" height="5.1"/>
<rect x="996.76" y="867.2" width="3.25" height="5.1"/>
<rect x="1000.40" y="859.7" width="3.25" height="12.7"/>
<rect x="1007.70" y="861.1" width="3.25" height="11.2"/>
<rect x="1011.34" y="864.3" width="3.25" height="8.0"/>
<rect x="1018.64" y="860.7" width="3.25" height="11.6"/>
<rect x="1022.28" y="860.5" width="3.25" height="11.8"/>
<rect x="1025.93" y="862.7" width="3.25" height="9.7"/>
<rect x="1029.58" y="868.0" width="3.25" height="4.4"/>
<rect x="1033.22" y="800.4" width="3.25" height="71.9"/>
<rect x="1040.52" y="788.3" width="3.25" height="84.0"/>
<rect x="1044.16" y="842.2" width="3.25" height="30.2"/>
<rect x="1047.81" y="819.1" width="3.25" height="53.3"/>
<rect x="1051.46" y="849.2" width="3.25" height="23.1"/>
<rect x="1062.40" y="857.0" width="3.25" height="15.4"/>
<rect x="1066.04" y="859.1" width="3.25" height="13.2"/>
<rect x="1069.69" y="858.5" width="3.25" height="13.8"/>
<rect x="1076.98" y="868.0" width="3.25" height="4.4"/>
<rect x="1084.28" y="853.2" width="3.25" height="19.1"/>
<rect x="1087.92" y="860.1" width="3.25" height="12.2"/>
<rect x="1091.57" y="867.2" width="3.25" height="5.1"/>
<rect x="1095.22" y="863.4" width="3.25" height="8.9"/>
<rect x="1098.86" y="868.8" width="3.25" height="3.6"/>
<rect x="1102.51" y="825.3" width="3.25" height="47.1"/>
<rect x="1106.16" y="841.0" width="3.25" height="31.3"/>
<rect x="1113.45" y="851.6" width="3.25" height="20.7"/>
<rect x="1117.10" y="854.3" width="3.25" height="18.1"/>
<rect x="1120.74" y="844.3" width="3.25" height="28.0"/>
<rect x="1128.04" y="817.1" width="3.25" height="55.2"/>
<rect x="1131.68" y="838.0" width="3.25" height="34.3"/>
<rect x="1135.33" y="785.3" width="3.25" height="87.0"/>
<rect x="1138.98" y="669.3" width="3.25" height="203.0"/>
<rect x="1142.62" y="765.5" width="3.25" height="106.8"/>
<rect x="1146.27" y="746.7" width="3.25" height="125.7"/>
<rect x="1149.92" y="586.2" width="3.25" height="286.1"/>
<rect x="1153.56" y="634.5" width="3.25" height="237.8"/>
<rect x="1157.21" y="661.6" width="3.25" height="210.7"/>
<rect x="1160.86" y="737.0" width="3.25" height="135.3"/>
<rect x="1164.50" y="702.5" width="3.25" height="169.8"/>
<rect x="1168.15" y="648.4" width="3.25" height="223.9"/>
<rect x="1171.80" y="401.3" width="3.25" height="471.1"/>
<rect x="1175.44" y="492.0" width="3.25" height="380.3"/>
<rect x="1179.09" y="580.7" width="3.25" height="291.6"/>
<rect x="1182.73" y="724.0" width="3.25" height="148.3"/>
<rect x="1186.38" y="849.5" width="3.25" height="22.8"/>
<rect x="1190.03" y="832.5" width="3.25" height="39.8"/>
<rect x="1193.67" y="807.3" width="3.25" height="65.1"/>
<rect x="1197.32" y="827.2" width="3.25" height="45.1"/>
<rect x="1200.97" y="771.1" width="3.25" height="101.2"/>
<rect x="1204.61" y="846.7" width="3.25" height="25.6"/>
<rect x="1208.26" y="631.0" width="3.25" height="241.3"/>
<rect x="1211.91" y="696.1" width="3.25" height="176.2"/>
<rect x="1215.55" y="619.1" width="3.25" height="253.3"/>
<rect x="1219.20" y="589.6" width="3.25" height="282.8"/>
<rect x="1222.85" y="707.2" width="3.25" height="165.1"/>
<rect x="1226.49" y="633.1" width="3.25" height="239.3"/>
<rect x="1230.14" y="696.9" width="3.25" height="175.5"/>
<rect x="1233.79" y="826.9" width="3.25" height="45.4"/>
<rect x="1248.37" y="859.4" width="3.25" height="13.0"/>
<rect x="1252.02" y="827.7" width="3.25" height="44.7"/>
<rect x="1259.31" y="810.4" width="3.25" height="62.0"/>
<rect x="1262.96" y="853.0" width="3.25" height="19.3"/>
<rect x="1266.61" y="847.9" width="3.25" height="24.5"/>
<rect x="1281.19" y="850.1" width="3.25" height="22.2"/>
<rect x="1284.84" y="847.9" width="3.25" height="24.5"/>
<rect x="1288.49" y="822.1" width="3.25" height="50.3"/>
<rect x="1292.13" y="814.5" width="3.25" height="57.8"/>
<rect x="1303.07" y="767.0" width="3.25" height="105.4"/>
<rect x="1306.72" y="691.9" width="3.25" height="180.5"/>
<rect x="1310.37" y="634.4" width="3.25" height="237.9"/>
<rect x="1314.01" y="748.7" width="3.25" height="123.6"/>
<rect x="1317.66" y="817.0" width="3.25" height="55.3"/>
<rect x="1321.31" y="675.9" width="3.25" height="196.4"/>
<rect x="1324.95" y="783.5" width="3.25" height="88.8"/>
<rect x="1328.60" y="856.3" width="3.25" height="16.0"/>
<rect x="1339.54" y="785.7" width="3.25" height="86.6"/>
<rect x="1343.19" y="835.3" width="3.25" height="37.0"/>
<rect x="1346.83" y="510.4" width="3.25" height="361.9"/>
<rect x="1350.48" y="546.4" width="3.25" height="326.0"/>
<rect x="1354.13" y="485.3" width="3.25" height="387.1"/>
<rect x="1357.77" y="546.4" width="3.25" height="326.0"/>
<rect x="1368.71" y="833.9" width="3.25" height="38.5"/>
<rect x="1372.36" y="819.4" width="3.25" height="53.0"/>
<rect x="1376.00" y="650.0" width="3.25" height="222.3"/>
<rect x="1379.65" y="155.0" width="3.25" height="717.4"/>
<rect x="1383.30" y="362.6" width="3.25" height="509.7"/>
</g>
<g fill="#FF7F50">
<rect x="1395.61" y="861.3" width="3.25" height="11.0"/>
<rect x="1406.55" y="868.2" width="3.25" height="4.2"/>
<rect x="1410.19" y="818.9" width="3.25" height="53.5"/>
<rect x="1421.13" y="867.2" width="3.25" height="5.1"/>
<rect x="1424.78" y="828.0" width="3.25" height="44.4"/>
<rect x="1428.43" y="870.9" width="3.25" height="1.5"/>
<rect x="1432.07" y="871.4" width="3.25" height="1.0"/>
<rect x="1446.66" y="857.5" width="3.25" height="14.8"/>
<rect x="1450.31" y="866.1" width="3.25" height="6.2"/>
<rect x="1453.95" y="856.4" width="3.25" height="16.0"/>
<rect x="1457.60" y="870.4" width="3.25" height="1.9"/>
<rect x="1464.89" y="863.2" width="3.25" height="9.1"/>
<rect x="1468.54" y="852.2" width="3.25" height="20.1"/>
<rect x="1472.18" y="865.0" width="3.25" height="7.3"/>
<rect x="1475.83" y="865.0" width="3.25" height="7.3"/>
<rect x="1479.48" y="849.0" width="3.25" height="23.3"/>
<rect x="1483.12" y="860.7" width="3.25" height="11.6"/>
<rect x="1486.77" y="822.1" width="3.25" height="50.3"/>
<rect x="1512.30" y="855.8" width="3.25" height="16.5"/>
<rect x="1515.94" y="867.2" width="3.25" height="5.1"/>
<rect x="1526.88" y="866.4" width="3.25" height="5.9"/>
<rect x="1530.53" y="862.3" width="3.25" height="10.1"/>
<rect x="1541.47" y="863.7" width="3.25" height="8.6"/>
<rect x="1548.76" y="866.0" width="3.25" height="6.3"/>
<rect x="1552.41" y="858.7" width="3.25" height="13.6"/>
<rect x="1559.70" y="850.1" width="3.25" height="22.2"/>
<rect x="1563.35" y="856.8" width="3.25" height="15.6"/>
<rect x="1567.00" y="848.2" width="3.25" height="24.2"/>
<rect x="1570.64" y="870.6" width="3.25" height="1.7"/>
<rect x="1574.29" y="843.6" width="3.25" height="28.7"/>
<rect x="1577.94" y="850.5" width="3.25" height="21.8"/>
<rect x="1588.88" y="853.1" width="3.25" height="19.2"/>
<rect x="1596.17" y="856.1" width="3.25" height="16.2"/>
<rect x="1607.11" y="858.2" width="3.25" height="14.1"/>
<rect x="1610.76" y="868.0" width="3.25" height="4.4"/>
<rect x="1614.40" y="867.6" width="3.25" height="4.7"/>
<rect x="1618.05" y="833.3" width="3.25" height="39.1"/>
<rect x="1621.70" y="850.7" width="3.25" height="21.7"/>
<rect x="1625.34" y="843.0" width="3.25" height="29.3"/>
<rect x="1628.99" y="848.6" width="3.25" height="23.7"/>
<rect x="1632.64" y="865.0" width="3.25" height="7.3"/>
<rect x="1636.28" y="858.7" width="3.25" height="13.6"/>
<rect x="1643.58" y="865.3" width="3.25" height="7.1"/>
<rect x="1650.87" y="854.0" width="3.25" height="18.4"/>
<rect x="1654.51" y="863.8" width="3.25" height="8.5"/>
<rect x="1658.16" y="853.3" width="3.25" height="19.0"/>
<rect x="1661.81" y="833.3" width="3.25" height="39.1"/>
<rect x="1669.10" y="867.2" width="3.25" height="5.1"/>
<rect x="1672.75" y="853.3" width="3.25" height="19.0"/>
<rect x="1676.39" y="861.1" width="3.25" height="11.2"/>
<rect x="1680.04" y="860.7" width="3.25" height="11.6"/>
<rect x="1690.98" y="865.9" width="3.25" height="6.5"/>
<rect x="1701.92" y="859.1" width="3.25" height="13.2"/>
<rect x="1716.51" y="867.2" width="3.25" height="5.1"/>
<rect x="1727.45" y="853.1" width="3.25" height="19.2"/>
<rect x="1734.74" y="854.0" width="3.25" height="18.4"/>
<rect x="1745.68" y="867.2" width="3.25" height="5.1"/>
<rect x="1752.97" y="856.8" width="3.25" height="15.6"/>
<rect x="1756.62" y="865.9" width="3.25" height="6.5"/>
<rect x="1767.56" y="856.0" width="3.25" height="16.3"/>
<rect x="1771.21" y="867.2" width="3.25" height="5.1"/>
<rect x="1778.50" y="865.3" width="3.25" height="7.1"/>
<rect x="1782.15" y="864.3" width="3.25" height="8.0"/>
<rect x="1785.79" y="846.4" width="3.25" height="25.9"/>
<rect x="1793.09" y="849.4" width="3.25" height="22.9"/>
<rect x="1796.73" y="853.4" width="3.25" height="18.9"/>
<rect x="1800.38" y="870.4" width="3.25" height="1.9"/>
<rect x="1804.03" y="866.8" width="3.25" height="5.5"/>
<rect x="1822.26" y="863.1" width="3.25" height="9.2"/>
</g>
<rect x="72.5" y="798.5" width="525.5" height="54.5" fill="#fff" fill-opacity="0.5" stroke="#000" stroke-opacity="0.12" stroke-width="1.5"/>
<text class="ser" y="834.7" font-size="28.5" font-weight="bold" fill="#556B2F" stroke="#556B2F" stroke-width="0.5"><tspan x="83.3" textLength="81.6" lengthAdjust="spacingAndGlyphs">www.</tspan><tspan x="166.1" textLength="184.4" lengthAdjust="spacingAndGlyphs">eastasiaecon</tspan><tspan x="351.0" textLength="67.3" lengthAdjust="spacingAndGlyphs">.com</tspan><tspan x="418.7" textLength="60.1" lengthAdjust="spacingAndGlyphs">/kr/</tspan><tspan x="479.9" textLength="107.2" lengthAdjust="spacingAndGlyphs">#charts</tspan></text>
<g fill="#000" shape-rendering="crispEdges">
<rect x="52" y="82" width="2" height="792"/>
<rect x="1832" y="82" width="2" height="792"/>
<rect x="41" y="872" width="1804" height="2"/>
<rect x="54" y="869" width="2" height="16"/>
<rect x="58" y="869" width="2" height="16"/>
<rect x="62" y="869" width="2" height="16"/>
<rect x="64" y="869" width="2" height="16"/>
<rect x="68" y="869" width="2" height="16"/>
<rect x="72" y="869" width="2" height="16"/>
<rect x="76" y="869" width="2" height="16"/>
<rect x="80" y="869" width="2" height="16"/>
<rect x="82" y="869" width="2" height="16"/>
<rect x="86" y="869" width="2" height="16"/>
<rect x="90" y="869" width="2" height="16"/>
<rect x="94" y="869" width="2" height="16"/>
<rect x="98" y="869" width="2" height="16"/>
<rect x="102" y="869" width="2" height="16"/>
<rect x="104" y="869" width="2" height="16"/>
<rect x="108" y="869" width="2" height="16"/>
<rect x="112" y="869" width="2" height="16"/>
<rect x="116" y="869" width="2" height="16"/>
<rect x="120" y="869" width="2" height="16"/>
<rect x="124" y="869" width="2" height="16"/>
<rect x="126" y="869" width="2" height="16"/>
<rect x="130" y="869" width="2" height="16"/>
<rect x="134" y="869" width="2" height="16"/>
<rect x="138" y="869" width="2" height="16"/>
<rect x="142" y="869" width="2" height="16"/>
<rect x="144" y="869" width="2" height="16"/>
<rect x="148" y="869" width="2" height="16"/>
<rect x="152" y="869" width="2" height="16"/>
<rect x="156" y="869" width="2" height="16"/>
<rect x="160" y="869" width="2" height="16"/>
<rect x="164" y="869" width="2" height="16"/>
<rect x="166" y="869" width="2" height="16"/>
<rect x="170" y="869" width="2" height="16"/>
<rect x="174" y="869" width="2" height="16"/>
<rect x="178" y="869" width="2" height="16"/>
<rect x="182" y="869" width="2" height="16"/>
<rect x="186" y="869" width="2" height="16"/>
<rect x="188" y="869" width="2" height="16"/>
<rect x="192" y="869" width="2" height="16"/>
<rect x="196" y="869" width="2" height="16"/>
<rect x="200" y="869" width="2" height="16"/>
<rect x="204" y="869" width="2" height="16"/>
<rect x="206" y="869" width="2" height="16"/>
<rect x="210" y="869" width="2" height="16"/>
<rect x="214" y="869" width="2" height="16"/>
<rect x="218" y="869" width="2" height="16"/>
<rect x="222" y="869" width="2" height="16"/>
<rect x="226" y="869" width="2" height="16"/>
<rect x="228" y="869" width="2" height="16"/>
<rect x="232" y="869" width="2" height="16"/>
<rect x="236" y="869" width="2" height="16"/>
<rect x="240" y="869" width="2" height="16"/>
<rect x="244" y="869" width="2" height="16"/>
<rect x="248" y="869" width="2" height="16"/>
<rect x="250" y="869" width="2" height="16"/>
<rect x="254" y="869" width="2" height="16"/>
<rect x="258" y="869" width="2" height="16"/>
<rect x="262" y="869" width="2" height="16"/>
<rect x="266" y="869" width="2" height="16"/>
<rect x="268" y="869" width="2" height="16"/>
<rect x="272" y="869" width="2" height="16"/>
<rect x="276" y="869" width="2" height="16"/>
<rect x="280" y="869" width="2" height="16"/>
<rect x="284" y="869" width="2" height="16"/>
<rect x="288" y="869" width="2" height="16"/>
<rect x="290" y="869" width="2" height="16"/>
<rect x="294" y="869" width="2" height="16"/>
<rect x="298" y="869" width="2" height="16"/>
<rect x="302" y="869" width="2" height="16"/>
<rect x="306" y="869" width="2" height="16"/>
<rect x="310" y="869" width="2" height="16"/>
<rect x="312" y="869" width="2" height="16"/>
<rect x="316" y="869" width="2" height="16"/>
<rect x="320" y="869" width="2" height="16"/>
<rect x="324" y="869" width="2" height="16"/>
<rect x="328" y="869" width="2" height="16"/>
<rect x="330" y="869" width="2" height="16"/>
<rect x="334" y="869" width="2" height="16"/>
<rect x="338" y="869" width="2" height="16"/>
<rect x="342" y="869" width="2" height="16"/>
<rect x="346" y="869" width="2" height="16"/>
<rect x="350" y="869" width="2" height="16"/>
<rect x="352" y="869" width="2" height="16"/>
<rect x="356" y="869" width="2" height="16"/>
<rect x="360" y="869" width="2" height="16"/>
<rect x="364" y="869" width="2" height="16"/>
<rect x="368" y="869" width="2" height="16"/>
<rect x="372" y="869" width="2" height="16"/>
<rect x="374" y="869" width="2" height="16"/>
<rect x="378" y="869" width="2" height="16"/>
<rect x="382" y="869" width="2" height="16"/>
<rect x="386" y="869" width="2" height="16"/>
<rect x="390" y="869" width="2" height="16"/>
<rect x="392" y="869" width="2" height="16"/>
<rect x="396" y="869" width="2" height="16"/>
<rect x="400" y="869" width="2" height="16"/>
<rect x="404" y="869" width="2" height="16"/>
<rect x="408" y="869" width="2" height="16"/>
<rect x="412" y="869" width="2" height="16"/>
<rect x="414" y="869" width="2" height="16"/>
<rect x="418" y="869" width="2" height="16"/>
<rect x="422" y="869" width="2" height="16"/>
<rect x="426" y="869" width="2" height="16"/>
<rect x="430" y="869" width="2" height="16"/>
<rect x="434" y="869" width="2" height="16"/>
<rect x="436" y="869" width="2" height="16"/>
<rect x="440" y="869" width="2" height="16"/>
<rect x="444" y="869" width="2" height="16"/>
<rect x="448" y="869" width="2" height="16"/>
<rect x="452" y="869" width="2" height="16"/>
<rect x="454" y="869" width="2" height="16"/>
<rect x="458" y="869" width="2" height="16"/>
<rect x="462" y="869" width="2" height="16"/>
<rect x="466" y="869" width="2" height="16"/>
<rect x="470" y="869" width="2" height="16"/>
<rect x="474" y="869" width="2" height="16"/>
<rect x="476" y="869" width="2" height="16"/>
<rect x="480" y="869" width="2" height="16"/>
<rect x="484" y="869" width="2" height="16"/>
<rect x="488" y="869" width="2" height="16"/>
<rect x="492" y="869" width="2" height="16"/>
<rect x="500" y="869" width="2" height="16"/>
<rect x="504" y="869" width="2" height="16"/>
<rect x="508" y="869" width="2" height="16"/>
<rect x="512" y="869" width="2" height="16"/>
<rect x="514" y="869" width="2" height="16"/>
<rect x="518" y="869" width="2" height="16"/>
<rect x="522" y="869" width="2" height="16"/>
<rect x="526" y="869" width="2" height="16"/>
<rect x="530" y="869" width="2" height="16"/>
<rect x="532" y="869" width="2" height="16"/>
<rect x="536" y="869" width="2" height="16"/>
<rect x="540" y="869" width="2" height="16"/>
<rect x="544" y="869" width="2" height="16"/>
<rect x="548" y="869" width="2" height="16"/>
<rect x="552" y="869" width="2" height="16"/>
<rect x="554" y="869" width="2" height="16"/>
<rect x="558" y="869" width="2" height="16"/>
<rect x="562" y="869" width="2" height="16"/>
<rect x="566" y="869" width="2" height="16"/>
<rect x="570" y="869" width="2" height="16"/>
<rect x="574" y="869" width="2" height="16"/>
<rect x="576" y="869" width="2" height="16"/>
<rect x="580" y="869" width="2" height="16"/>
<rect x="584" y="869" width="2" height="16"/>
<rect x="588" y="869" width="2" height="16"/>
<rect x="592" y="869" width="2" height="16"/>
<rect x="594" y="869" width="2" height="16"/>
<rect x="598" y="869" width="2" height="16"/>
<rect x="602" y="869" width="2" height="16"/>
<rect x="606" y="869" width="2" height="16"/>
<rect x="610" y="869" width="2" height="16"/>
<rect x="614" y="869" width="2" height="16"/>
<rect x="616" y="869" width="2" height="16"/>
<rect x="620" y="869" width="2" height="16"/>
<rect x="624" y="869" width="2" height="16"/>
<rect x="628" y="869" width="2" height="16"/>
<rect x="632" y="869" width="2" height="16"/>
<rect x="636" y="869" width="2" height="16"/>
<rect x="638" y="869" width="2" height="16"/>
<rect x="642" y="869" width="2" height="16"/>
<rect x="646" y="869" width="2" height="16"/>
<rect x="650" y="869" width="2" height="16"/>
<rect x="654" y="869" width="2" height="16"/>
<rect x="656" y="869" width="2" height="16"/>
<rect x="660" y="869" width="2" height="16"/>
<rect x="664" y="869" width="2" height="16"/>
<rect x="668" y="869" width="2" height="16"/>
<rect x="672" y="869" width="2" height="16"/>
<rect x="676" y="869" width="2" height="16"/>
<rect x="678" y="869" width="2" height="16"/>
<rect x="682" y="869" width="2" height="16"/>
<rect x="686" y="869" width="2" height="16"/>
<rect x="690" y="869" width="2" height="16"/>
<rect x="694" y="869" width="2" height="16"/>
<rect x="696" y="869" width="2" height="16"/>
<rect x="700" y="869" width="2" height="16"/>
<rect x="704" y="869" width="2" height="16"/>
<rect x="708" y="869" width="2" height="16"/>
<rect x="712" y="869" width="2" height="16"/>
<rect x="716" y="869" width="2" height="16"/>
<rect x="718" y="869" width="2" height="16"/>
<rect x="722" y="869" width="2" height="16"/>
<rect x="726" y="869" width="2" height="16"/>
<rect x="730" y="869" width="2" height="16"/>
<rect x="734" y="869" width="2" height="16"/>
<rect x="738" y="869" width="2" height="16"/>
<rect x="740" y="869" width="2" height="16"/>
<rect x="744" y="869" width="2" height="16"/>
<rect x="748" y="869" width="2" height="16"/>
<rect x="752" y="869" width="2" height="16"/>
<rect x="756" y="869" width="2" height="16"/>
<rect x="758" y="869" width="2" height="16"/>
<rect x="762" y="869" width="2" height="16"/>
<rect x="766" y="869" width="2" height="16"/>
<rect x="770" y="869" width="2" height="16"/>
<rect x="774" y="869" width="2" height="16"/>
<rect x="778" y="869" width="2" height="16"/>
<rect x="780" y="869" width="2" height="16"/>
<rect x="784" y="869" width="2" height="16"/>
<rect x="788" y="869" width="2" height="16"/>
<rect x="792" y="869" width="2" height="16"/>
<rect x="796" y="869" width="2" height="16"/>
<rect x="800" y="869" width="2" height="16"/>
<rect x="802" y="869" width="2" height="16"/>
<rect x="806" y="869" width="2" height="16"/>
<rect x="810" y="869" width="2" height="16"/>
<rect x="814" y="869" width="2" height="16"/>
<rect x="818" y="869" width="2" height="16"/>
<rect x="820" y="869" width="2" height="16"/>
<rect x="824" y="869" width="2" height="16"/>
<rect x="828" y="869" width="2" height="16"/>
<rect x="832" y="869" width="2" height="16"/>
<rect x="836" y="869" width="2" height="16"/>
<rect x="840" y="869" width="2" height="16"/>
<rect x="842" y="869" width="2" height="16"/>
<rect x="846" y="869" width="2" height="16"/>
<rect x="850" y="869" width="2" height="16"/>
<rect x="854" y="869" width="2" height="16"/>
<rect x="858" y="869" width="2" height="16"/>
<rect x="862" y="869" width="2" height="16"/>
<rect x="864" y="869" width="2" height="16"/>
<rect x="868" y="869" width="2" height="16"/>
<rect x="872" y="869" width="2" height="16"/>
<rect x="876" y="869" width="2" height="16"/>
<rect x="880" y="869" width="2" height="16"/>
<rect x="882" y="869" width="2" height="16"/>
<rect x="886" y="869" width="2" height="16"/>
<rect x="890" y="869" width="2" height="16"/>
<rect x="894" y="869" width="2" height="16"/>
<rect x="898" y="869" width="2" height="16"/>
<rect x="902" y="869" width="2" height="16"/>
<rect x="904" y="869" width="2" height="16"/>
<rect x="908" y="869" width="2" height="16"/>
<rect x="912" y="869" width="2" height="16"/>
<rect x="916" y="869" width="2" height="16"/>
<rect x="920" y="869" width="2" height="16"/>
<rect x="924" y="869" width="2" height="16"/>
<rect x="926" y="869" width="2" height="16"/>
<rect x="930" y="869" width="2" height="16"/>
<rect x="934" y="869" width="2" height="16"/>
<rect x="938" y="869" width="2" height="16"/>
<rect x="946" y="869" width="2" height="16"/>
<rect x="950" y="869" width="2" height="16"/>
<rect x="954" y="869" width="2" height="16"/>
<rect x="958" y="869" width="2" height="16"/>
<rect x="960" y="869" width="2" height="16"/>
<rect x="964" y="869" width="2" height="16"/>
<rect x="968" y="869" width="2" height="16"/>
<rect x="972" y="869" width="2" height="16"/>
<rect x="976" y="869" width="2" height="16"/>
<rect x="980" y="869" width="2" height="16"/>
<rect x="982" y="869" width="2" height="16"/>
<rect x="986" y="869" width="2" height="16"/>
<rect x="990" y="869" width="2" height="16"/>
<rect x="994" y="869" width="2" height="16"/>
<rect x="998" y="869" width="2" height="16"/>
<rect x="1002" y="869" width="2" height="16"/>
<rect x="1004" y="869" width="2" height="16"/>
<rect x="1008" y="869" width="2" height="16"/>
<rect x="1012" y="869" width="2" height="16"/>
<rect x="1016" y="869" width="2" height="16"/>
<rect x="1020" y="869" width="2" height="16"/>
<rect x="1022" y="869" width="2" height="16"/>
<rect x="1026" y="869" width="2" height="16"/>
<rect x="1030" y="869" width="2" height="16"/>
<rect x="1034" y="869" width="2" height="16"/>
<rect x="1038" y="869" width="2" height="16"/>
<rect x="1042" y="869" width="2" height="16"/>
<rect x="1044" y="869" width="2" height="16"/>
<rect x="1048" y="869" width="2" height="16"/>
<rect x="1052" y="869" width="2" height="16"/>
<rect x="1056" y="869" width="2" height="16"/>
<rect x="1060" y="869" width="2" height="16"/>
<rect x="1064" y="869" width="2" height="16"/>
<rect x="1066" y="869" width="2" height="16"/>
<rect x="1070" y="869" width="2" height="16"/>
<rect x="1074" y="869" width="2" height="16"/>
<rect x="1078" y="869" width="2" height="16"/>
<rect x="1082" y="869" width="2" height="16"/>
<rect x="1084" y="869" width="2" height="16"/>
<rect x="1088" y="869" width="2" height="16"/>
<rect x="1092" y="869" width="2" height="16"/>
<rect x="1096" y="869" width="2" height="16"/>
<rect x="1100" y="869" width="2" height="16"/>
<rect x="1104" y="869" width="2" height="16"/>
<rect x="1106" y="869" width="2" height="16"/>
<rect x="1110" y="869" width="2" height="16"/>
<rect x="1114" y="869" width="2" height="16"/>
<rect x="1118" y="869" width="2" height="16"/>
<rect x="1122" y="869" width="2" height="16"/>
<rect x="1126" y="869" width="2" height="16"/>
<rect x="1128" y="869" width="2" height="16"/>
<rect x="1132" y="869" width="2" height="16"/>
<rect x="1136" y="869" width="2" height="16"/>
<rect x="1140" y="869" width="2" height="16"/>
<rect x="1144" y="869" width="2" height="16"/>
<rect x="1146" y="869" width="2" height="16"/>
<rect x="1150" y="869" width="2" height="16"/>
<rect x="1154" y="869" width="2" height="16"/>
<rect x="1158" y="869" width="2" height="16"/>
<rect x="1162" y="869" width="2" height="16"/>
<rect x="1166" y="869" width="2" height="16"/>
<rect x="1168" y="869" width="2" height="16"/>
<rect x="1172" y="869" width="2" height="16"/>
<rect x="1176" y="869" width="2" height="16"/>
<rect x="1180" y="869" width="2" height="16"/>
<rect x="1184" y="869" width="2" height="16"/>
<rect x="1188" y="869" width="2" height="16"/>
<rect x="1190" y="869" width="2" height="16"/>
<rect x="1194" y="869" width="2" height="16"/>
<rect x="1198" y="869" width="2" height="16"/>
<rect x="1202" y="869" width="2" height="16"/>
<rect x="1206" y="869" width="2" height="16"/>
<rect x="1208" y="869" width="2" height="16"/>
<rect x="1212" y="869" width="2" height="16"/>
<rect x="1216" y="869" width="2" height="16"/>
<rect x="1220" y="869" width="2" height="16"/>
<rect x="1224" y="869" width="2" height="16"/>
<rect x="1228" y="869" width="2" height="16"/>
<rect x="1230" y="869" width="2" height="16"/>
<rect x="1234" y="869" width="2" height="16"/>
<rect x="1238" y="869" width="2" height="16"/>
<rect x="1242" y="869" width="2" height="16"/>
<rect x="1246" y="869" width="2" height="16"/>
<rect x="1248" y="869" width="2" height="16"/>
<rect x="1252" y="869" width="2" height="16"/>
<rect x="1256" y="869" width="2" height="16"/>
<rect x="1260" y="869" width="2" height="16"/>
<rect x="1264" y="869" width="2" height="16"/>
<rect x="1268" y="869" width="2" height="16"/>
<rect x="1270" y="869" width="2" height="16"/>
<rect x="1274" y="869" width="2" height="16"/>
<rect x="1278" y="869" width="2" height="16"/>
<rect x="1282" y="869" width="2" height="16"/>
<rect x="1286" y="869" width="2" height="16"/>
<rect x="1290" y="869" width="2" height="16"/>
<rect x="1292" y="869" width="2" height="16"/>
<rect x="1296" y="869" width="2" height="16"/>
<rect x="1300" y="869" width="2" height="16"/>
<rect x="1304" y="869" width="2" height="16"/>
<rect x="1308" y="869" width="2" height="16"/>
<rect x="1310" y="869" width="2" height="16"/>
<rect x="1314" y="869" width="2" height="16"/>
<rect x="1318" y="869" width="2" height="16"/>
<rect x="1322" y="869" width="2" height="16"/>
<rect x="1326" y="869" width="2" height="16"/>
<rect x="1330" y="869" width="2" height="16"/>
<rect x="1332" y="869" width="2" height="16"/>
<rect x="1336" y="869" width="2" height="16"/>
<rect x="1340" y="869" width="2" height="16"/>
<rect x="1344" y="869" width="2" height="16"/>
<rect x="1348" y="869" width="2" height="16"/>
<rect x="1352" y="869" width="2" height="16"/>
<rect x="1354" y="869" width="2" height="16"/>
<rect x="1358" y="869" width="2" height="16"/>
<rect x="1362" y="869" width="2" height="16"/>
<rect x="1366" y="869" width="2" height="16"/>
<rect x="1370" y="869" width="2" height="16"/>
<rect x="1372" y="869" width="2" height="16"/>
<rect x="1376" y="869" width="2" height="16"/>
<rect x="1380" y="869" width="2" height="16"/>
<rect x="1384" y="869" width="2" height="16"/>
<rect x="1392" y="869" width="2" height="16"/>
<rect x="1396" y="869" width="2" height="16"/>
<rect x="1400" y="869" width="2" height="16"/>
<rect x="1404" y="869" width="2" height="16"/>
<rect x="1408" y="869" width="2" height="16"/>
<rect x="1410" y="869" width="2" height="16"/>
<rect x="1414" y="869" width="2" height="16"/>
<rect x="1418" y="869" width="2" height="16"/>
<rect x="1422" y="869" width="2" height="16"/>
<rect x="1426" y="869" width="2" height="16"/>
<rect x="1430" y="869" width="2" height="16"/>
<rect x="1432" y="869" width="2" height="16"/>
<rect x="1436" y="869" width="2" height="16"/>
<rect x="1440" y="869" width="2" height="16"/>
<rect x="1444" y="869" width="2" height="16"/>
<rect x="1448" y="869" width="2" height="16"/>
<rect x="1450" y="869" width="2" height="16"/>
<rect x="1454" y="869" width="2" height="16"/>
<rect x="1458" y="869" width="2" height="16"/>
<rect x="1462" y="869" width="2" height="16"/>
<rect x="1466" y="869" width="2" height="16"/>
<rect x="1470" y="869" width="2" height="16"/>
<rect x="1472" y="869" width="2" height="16"/>
<rect x="1476" y="869" width="2" height="16"/>
<rect x="1480" y="869" width="2" height="16"/>
<rect x="1484" y="869" width="2" height="16"/>
<rect x="1488" y="869" width="2" height="16"/>
<rect x="1492" y="869" width="2" height="16"/>
<rect x="1494" y="869" width="2" height="16"/>
<rect x="1498" y="869" width="2" height="16"/>
<rect x="1502" y="869" width="2" height="16"/>
<rect x="1506" y="869" width="2" height="16"/>
<rect x="1510" y="869" width="2" height="16"/>
<rect x="1512" y="869" width="2" height="16"/>
<rect x="1516" y="869" width="2" height="16"/>
<rect x="1520" y="869" width="2" height="16"/>
<rect x="1524" y="869" width="2" height="16"/>
<rect x="1528" y="869" width="2" height="16"/>
<rect x="1532" y="869" width="2" height="16"/>
<rect x="1534" y="869" width="2" height="16"/>
<rect x="1538" y="869" width="2" height="16"/>
<rect x="1542" y="869" width="2" height="16"/>
<rect x="1546" y="869" width="2" height="16"/>
<rect x="1550" y="869" width="2" height="16"/>
<rect x="1554" y="869" width="2" height="16"/>
<rect x="1556" y="869" width="2" height="16"/>
<rect x="1560" y="869" width="2" height="16"/>
<rect x="1564" y="869" width="2" height="16"/>
<rect x="1568" y="869" width="2" height="16"/>
<rect x="1572" y="869" width="2" height="16"/>
<rect x="1574" y="869" width="2" height="16"/>
<rect x="1578" y="869" width="2" height="16"/>
<rect x="1582" y="869" width="2" height="16"/>
<rect x="1586" y="869" width="2" height="16"/>
<rect x="1590" y="869" width="2" height="16"/>
<rect x="1594" y="869" width="2" height="16"/>
<rect x="1596" y="869" width="2" height="16"/>
<rect x="1600" y="869" width="2" height="16"/>
<rect x="1604" y="869" width="2" height="16"/>
<rect x="1608" y="869" width="2" height="16"/>
<rect x="1612" y="869" width="2" height="16"/>
<rect x="1616" y="869" width="2" height="16"/>
<rect x="1618" y="869" width="2" height="16"/>
<rect x="1622" y="869" width="2" height="16"/>
<rect x="1626" y="869" width="2" height="16"/>
<rect x="1630" y="869" width="2" height="16"/>
<rect x="1634" y="869" width="2" height="16"/>
<rect x="1636" y="869" width="2" height="16"/>
<rect x="1640" y="869" width="2" height="16"/>
<rect x="1644" y="869" width="2" height="16"/>
<rect x="1648" y="869" width="2" height="16"/>
<rect x="1652" y="869" width="2" height="16"/>
<rect x="1656" y="869" width="2" height="16"/>
<rect x="1658" y="869" width="2" height="16"/>
<rect x="1662" y="869" width="2" height="16"/>
<rect x="1666" y="869" width="2" height="16"/>
<rect x="1670" y="869" width="2" height="16"/>
<rect x="1674" y="869" width="2" height="16"/>
<rect x="1678" y="869" width="2" height="16"/>
<rect x="1680" y="869" width="2" height="16"/>
<rect x="1684" y="869" width="2" height="16"/>
<rect x="1688" y="869" width="2" height="16"/>
<rect x="1692" y="869" width="2" height="16"/>
<rect x="1696" y="869" width="2" height="16"/>
<rect x="1698" y="869" width="2" height="16"/>
<rect x="1702" y="869" width="2" height="16"/>
<rect x="1706" y="869" width="2" height="16"/>
<rect x="1710" y="869" width="2" height="16"/>
<rect x="1714" y="869" width="2" height="16"/>
<rect x="1718" y="869" width="2" height="16"/>
<rect x="1720" y="869" width="2" height="16"/>
<rect x="1724" y="869" width="2" height="16"/>
<rect x="1728" y="869" width="2" height="16"/>
<rect x="1732" y="869" width="2" height="16"/>
<rect x="1736" y="869" width="2" height="16"/>
<rect x="1740" y="869" width="2" height="16"/>
<rect x="1742" y="869" width="2" height="16"/>
<rect x="1746" y="869" width="2" height="16"/>
<rect x="1750" y="869" width="2" height="16"/>
<rect x="1754" y="869" width="2" height="16"/>
<rect x="1758" y="869" width="2" height="16"/>
<rect x="1760" y="869" width="2" height="16"/>
<rect x="1764" y="869" width="2" height="16"/>
<rect x="1768" y="869" width="2" height="16"/>
<rect x="1772" y="869" width="2" height="16"/>
<rect x="1776" y="869" width="2" height="16"/>
<rect x="1780" y="869" width="2" height="16"/>
<rect x="1782" y="869" width="2" height="16"/>
<rect x="1786" y="869" width="2" height="16"/>
<rect x="1790" y="869" width="2" height="16"/>
<rect x="1794" y="869" width="2" height="16"/>
<rect x="1798" y="869" width="2" height="16"/>
<rect x="1802" y="869" width="2" height="16"/>
<rect x="1804" y="869" width="2" height="16"/>
<rect x="1808" y="869" width="2" height="16"/>
<rect x="1812" y="869" width="2" height="16"/>
<rect x="1816" y="869" width="2" height="16"/>
<rect x="1820" y="869" width="2" height="16"/>
<rect x="1822" y="869" width="2" height="16"/>
<rect x="1826" y="869" width="2" height="16"/>
<rect x="1830" y="869" width="2" height="16"/>
<rect x="45" y="834" width="8" height="2"/>
<rect x="1834" y="834" width="8" height="2"/>
<rect x="45" y="794" width="8" height="2"/>
<rect x="1834" y="794" width="8" height="2"/>
<rect x="45" y="756" width="8" height="2"/>
<rect x="1834" y="756" width="8" height="2"/>
<rect x="45" y="718" width="8" height="2"/>
<rect x="1834" y="718" width="8" height="2"/>
<rect x="41" y="678" width="16" height="2"/>
<rect x="1829" y="678" width="16" height="2"/>
<rect x="45" y="640" width="8" height="2"/>
<rect x="1834" y="640" width="8" height="2"/>
<rect x="45" y="600" width="8" height="2"/>
<rect x="1834" y="600" width="8" height="2"/>
<rect x="45" y="562" width="8" height="2"/>
<rect x="1834" y="562" width="8" height="2"/>
<rect x="45" y="524" width="8" height="2"/>
<rect x="1834" y="524" width="8" height="2"/>
<rect x="41" y="484" width="16" height="2"/>
<rect x="1829" y="484" width="16" height="2"/>
<rect x="45" y="446" width="8" height="2"/>
<rect x="1834" y="446" width="8" height="2"/>
<rect x="45" y="408" width="8" height="2"/>
<rect x="1834" y="408" width="8" height="2"/>
<rect x="45" y="368" width="8" height="2"/>
<rect x="1834" y="368" width="8" height="2"/>
<rect x="45" y="330" width="8" height="2"/>
<rect x="1834" y="330" width="8" height="2"/>
<rect x="41" y="292" width="16" height="2"/>
<rect x="1829" y="292" width="16" height="2"/>
<rect x="45" y="252" width="8" height="2"/>
<rect x="1834" y="252" width="8" height="2"/>
<rect x="45" y="214" width="8" height="2"/>
<rect x="1834" y="214" width="8" height="2"/>
<rect x="45" y="176" width="8" height="2"/>
<rect x="1834" y="176" width="8" height="2"/>
<rect x="45" y="136" width="8" height="2"/>
<rect x="1834" y="136" width="8" height="2"/>
<rect x="41" y="98" width="16" height="2"/>
<rect x="1829" y="98" width="16" height="2"/>
</g>
<text class="ser" y="60.8" font-size="52.8" fill="#444" font-weight="bold" stroke="#444" stroke-width="0.7"><tspan x="53.0" textLength="173.0" lengthAdjust="spacingAndGlyphs">Korea,</tspan> <tspan x="240.5" textLength="231.5" lengthAdjust="spacingAndGlyphs">Overseas</tspan> <tspan x="486.5" textLength="159.5" lengthAdjust="spacingAndGlyphs">equity</tspan> <tspan x="659.0" textLength="303.0" lengthAdjust="spacingAndGlyphs">investment,</tspan> <tspan x="977.0" textLength="114.5" lengthAdjust="spacingAndGlyphs">USD</tspan> <tspan x="1106.0" textLength="82.0" lengthAdjust="spacingAndGlyphs">bn,</tspan> <tspan x="1200.0" textLength="218.0" lengthAdjust="spacingAndGlyphs">Monthly</tspan></text>
<text class="ser" y="1165.2" font-size="37" font-style="italic" fill="#444" stroke="#444" stroke-width="0.4"><tspan x="643.2" textLength="111.4" lengthAdjust="spacingAndGlyphs">Latest:</tspan> <tspan x="765.2" textLength="66.3" lengthAdjust="spacingAndGlyphs">Nov</tspan> <tspan x="840.6" textLength="62.7" lengthAdjust="spacingAndGlyphs" font-size="30.5">202</tspan><tspan x="902.7" textLength="19.6" lengthAdjust="spacingAndGlyphs" y="1171">5</tspan><tspan x="923.2" textLength="7.5" lengthAdjust="spacingAndGlyphs" y="1165.2">;</tspan> <tspan x="942.9" textLength="121.9" lengthAdjust="spacingAndGlyphs">Source:</tspan> <tspan x="1077.2" textLength="81.4" lengthAdjust="spacingAndGlyphs">EAE,</tspan> <tspan x="1166.7" textLength="76.9" lengthAdjust="spacingAndGlyphs">BOK</tspan></text>
<g class="ser" fill="#444" stroke="#444" stroke-width="0.6">
<text x="7.04" y="887.4" font-size="33.5" textLength="24.53" lengthAdjust="spacingAndGlyphs">0</text>
<text x="1854.94" y="887.4" font-size="33.5" textLength="24.53" lengthAdjust="spacingAndGlyphs">0</text>
<text x="8.84" y="693.0" font-size="33" textLength="23.44" lengthAdjust="spacingAndGlyphs">2</text>
<text x="1854.74" y="693.0" font-size="33" textLength="23.44" lengthAdjust="spacingAndGlyphs">2</text>
<text x="8.21" y="506.8" font-size="43" textLength="22.20" lengthAdjust="spacingAndGlyphs">4</text>
<text x="1855.91" y="506.8" font-size="43" textLength="22.20" lengthAdjust="spacingAndGlyphs">4</text>
<text x="7.69" y="306.3" font-size="42.6" textLength="23.42" lengthAdjust="spacingAndGlyphs">6</text>
<text x="1854.79" y="306.3" font-size="42.6" textLength="23.42" lengthAdjust="spacingAndGlyphs">6</text>
<text x="7.91" y="113.2" font-size="43" textLength="23.58" lengthAdjust="spacingAndGlyphs">8</text>
<text x="1855.01" y="113.2" font-size="43" textLength="23.58" lengthAdjust="spacingAndGlyphs">8</text>
</g>
<g class="ser" font-size="43.5" fill="#444" stroke="#444" stroke-width="0.6">
<text transform="translate(40.5,894.3) rotate(90)"><tspan x="0" textLength="87.1" lengthAdjust="spacingAndGlyphs">Nov-</tspan><tspan x="87.1" font-size="34" textLength="64.0" lengthAdjust="spacingAndGlyphs">201</tspan><tspan x="151.1" y="6.8" font-size="43" textLength="21.1" lengthAdjust="spacingAndGlyphs">5</tspan></text>
<text transform="translate(84.3,894.3) rotate(90)"><tspan x="0" textLength="87.1" lengthAdjust="spacingAndGlyphs">Nov-</tspan><tspan x="87.1" font-size="34" textLength="64.0" lengthAdjust="spacingAndGlyphs">201</tspan><tspan x="151.1" y="0" font-size="43" textLength="22.6" lengthAdjust="spacingAndGlyphs">6</tspan></text>
<text transform="translate(128.0,894.3) rotate(90)"><tspan x="0" textLength="87.1" lengthAdjust="spacingAndGlyphs">Nov-</tspan><tspan x="87.1" font-size="34" textLength="64.0" lengthAdjust="spacingAndGlyphs">201</tspan><tspan x="151.1" y="6.8" font-size="43" textLength="20.1" lengthAdjust="spacingAndGlyphs">7</tspan></text>
<text transform="translate(171.8,894.3) rotate(90)"><tspan x="0" textLength="87.1" lengthAdjust="spacingAndGlyphs">Nov-</tspan><tspan x="87.1" font-size="34" textLength="64.0" lengthAdjust="spacingAndGlyphs">201</tspan><tspan x="151.1" y="0" font-size="43" textLength="23.8" lengthAdjust="spacingAndGlyphs">8</tspan></text>
<text transform="translate(215.6,894.3) rotate(90)"><tspan x="0" textLength="87.1" lengthAdjust="spacingAndGlyphs">Nov-</tspan><tspan x="87.1" font-size="34" textLength="64.0" lengthAdjust="spacingAndGlyphs">201</tspan><tspan x="151.1" y="6.8" font-size="43" textLength="22.6" lengthAdjust="spacingAndGlyphs">9</tspan></text>
<text transform="translate(259.3,894.3) rotate(90)"><tspan x="0" textLength="87.1" lengthAdjust="spacingAndGlyphs">Nov-</tspan><tspan x="87.1" font-size="34" textLength="93.8" lengthAdjust="spacingAndGlyphs">2020</tspan></text>
<text transform="translate(303.1,894.3) rotate(90)"><tspan x="0" textLength="87.1" lengthAdjust="spacingAndGlyphs">Nov-</tspan><tspan x="87.1" font-size="34" textLength="86.4" lengthAdjust="spacingAndGlyphs">2021</tspan></text>
<text transform="translate(346.8,894.3) rotate(90)"><tspan x="0" textLength="87.1" lengthAdjust="spacingAndGlyphs">Nov-</tspan><tspan x="87.1" font-size="34" textLength="91.6" lengthAdjust="spacingAndGlyphs">2022</tspan></text>
<text transform="translate(390.6,894.3) rotate(90)"><tspan x="0" textLength="87.1" lengthAdjust="spacingAndGlyphs">Nov-</tspan><tspan x="87.1" font-size="34" textLength="69.2" lengthAdjust="spacingAndGlyphs">202</tspan><tspan x="156.3" y="6.8" font-size="43" textLength="22.1" lengthAdjust="spacingAndGlyphs">3</tspan></text>
<text transform="translate(434.4,894.3) rotate(90)"><tspan x="0" textLength="87.1" lengthAdjust="spacingAndGlyphs">Nov-</tspan><tspan x="87.1" font-size="34" textLength="69.2" lengthAdjust="spacingAndGlyphs">202</tspan><tspan x="156.3" y="6.8" font-size="43" textLength="22.6" lengthAdjust="spacingAndGlyphs">4</tspan></text>
<text transform="translate(478.1,894.3) rotate(90)"><tspan x="0" textLength="87.1" lengthAdjust="spacingAndGlyphs">Nov-</tspan><tspan x="87.1" font-size="34" textLength="69.2" lengthAdjust="spacingAndGlyphs">202</tspan><tspan x="156.3" y="6.8" font-size="43" textLength="21.1" lengthAdjust="spacingAndGlyphs">5</tspan></text>
<text transform="translate(526.9,894.3) rotate(90)"><tspan x="0" textLength="76.7" lengthAdjust="spacingAndGlyphs">Oct-</tspan><tspan x="76.7" font-size="34" textLength="64.0" lengthAdjust="spacingAndGlyphs">201</tspan><tspan x="140.8" y="0" font-size="43" textLength="22.6" lengthAdjust="spacingAndGlyphs">6</tspan></text>
<text transform="translate(570.6,894.3) rotate(90)"><tspan x="0" textLength="76.7" lengthAdjust="spacingAndGlyphs">Oct-</tspan><tspan x="76.7" font-size="34" textLength="64.0" lengthAdjust="spacingAndGlyphs">201</tspan><tspan x="140.8" y="6.8" font-size="43" textLength="20.1" lengthAdjust="spacingAndGlyphs">7</tspan></text>
<text transform="translate(614.4,894.3) rotate(90)"><tspan x="0" textLength="76.7" lengthAdjust="spacingAndGlyphs">Oct-</tspan><tspan x="76.7" font-size="34" textLength="64.0" lengthAdjust="spacingAndGlyphs">201</tspan><tspan x="140.8" y="0" font-size="43" textLength="23.8" lengthAdjust="spacingAndGlyphs">8</tspan></text>
<text transform="translate(658.2,894.3) rotate(90)"><tspan x="0" textLength="76.7" lengthAdjust="spacingAndGlyphs">Oct-</tspan><tspan x="76.7" font-size="34" textLength="64.0" lengthAdjust="spacingAndGlyphs">201</tspan><tspan x="140.8" y="6.8" font-size="43" textLength="22.6" lengthAdjust="spacingAndGlyphs">9</tspan></text>
<text transform="translate(701.9,894.3) rotate(90)"><tspan x="0" textLength="76.7" lengthAdjust="spacingAndGlyphs">Oct-</tspan><tspan x="76.7" font-size="34" textLength="93.8" lengthAdjust="spacingAndGlyphs">2020</tspan></text>
<text transform="translate(745.7,894.3) rotate(90)"><tspan x="0" textLength="76.7" lengthAdjust="spacingAndGlyphs">Oct-</tspan><tspan x="76.7" font-size="34" textLength="86.4" lengthAdjust="spacingAndGlyphs">2021</tspan></text>
<text transform="translate(789.4,894.3) rotate(90)"><tspan x="0" textLength="76.7" lengthAdjust="spacingAndGlyphs">Oct-</tspan><tspan x="76.7" font-size="34" textLength="91.6" lengthAdjust="spacingAndGlyphs">2022</tspan></text>
<text transform="translate(833.2,894.3) rotate(90)"><tspan x="0" textLength="76.7" lengthAdjust="spacingAndGlyphs">Oct-</tspan><tspan x="76.7" font-size="34" textLength="69.2" lengthAdjust="spacingAndGlyphs">202</tspan><tspan x="146.0" y="6.8" font-size="43" textLength="22.1" lengthAdjust="spacingAndGlyphs">3</tspan></text>
<text transform="translate(877.0,894.3) rotate(90)"><tspan x="0" textLength="76.7" lengthAdjust="spacingAndGlyphs">Oct-</tspan><tspan x="76.7" font-size="34" textLength="69.2" lengthAdjust="spacingAndGlyphs">202</tspan><tspan x="146.0" y="6.8" font-size="43" textLength="22.6" lengthAdjust="spacingAndGlyphs">4</tspan></text>
<text transform="translate(920.7,894.3) rotate(90)"><tspan x="0" textLength="76.7" lengthAdjust="spacingAndGlyphs">Oct-</tspan><tspan x="76.7" font-size="34" textLength="69.2" lengthAdjust="spacingAndGlyphs">202</tspan><tspan x="146.0" y="6.8" font-size="43" textLength="21.1" lengthAdjust="spacingAndGlyphs">5</tspan></text>
<text transform="translate(969.5,894.3) rotate(90)"><tspan x="0" textLength="79.6" lengthAdjust="spacingAndGlyphs">Sep-</tspan><tspan x="79.6" font-size="34" textLength="64.0" lengthAdjust="spacingAndGlyphs">201</tspan><tspan x="143.6" y="0" font-size="43" textLength="22.6" lengthAdjust="spacingAndGlyphs">6</tspan></text>
<text transform="translate(1013.3,894.3) rotate(90)"><tspan x="0" textLength="79.6" lengthAdjust="spacingAndGlyphs">Sep-</tspan><tspan x="79.6" font-size="34" textLength="64.0" lengthAdjust="spacingAndGlyphs">201</tspan><tspan x="143.6" y="6.8" font-size="43" textLength="20.1" lengthAdjust="spacingAndGlyphs">7</tspan></text>
<text transform="translate(1057.0,894.3) rotate(90)"><tspan x="0" textLength="79.6" lengthAdjust="spacingAndGlyphs">Sep-</tspan><tspan x="79.6" font-size="34" textLength="64.0" lengthAdjust="spacingAndGlyphs">201</tspan><tspan x="143.6" y="0" font-size="43" textLength="23.8" lengthAdjust="spacingAndGlyphs">8</tspan></text>
<text transform="translate(1100.8,894.3) rotate(90)"><tspan x="0" textLength="79.6" lengthAdjust="spacingAndGlyphs">Sep-</tspan><tspan x="79.6" font-size="34" textLength="64.0" lengthAdjust="spacingAndGlyphs">201</tspan><tspan x="143.6" y="6.8" font-size="43" textLength="22.6" lengthAdjust="spacingAndGlyphs">9</tspan></text>
<text transform="translate(1144.5,894.3) rotate(90)"><tspan x="0" textLength="79.6" lengthAdjust="spacingAndGlyphs">Sep-</tspan><tspan x="79.6" font-size="34" textLength="93.8" lengthAdjust="spacingAndGlyphs">2020</tspan></text>
<text transform="translate(1188.3,894.3) rotate(90)"><tspan x="0" textLength="79.6" lengthAdjust="spacingAndGlyphs">Sep-</tspan><tspan x="79.6" font-size="34" textLength="86.4" lengthAdjust="spacingAndGlyphs">2021</tspan></text>
<text transform="translate(1232.1,894.3) rotate(90)"><tspan x="0" textLength="79.6" lengthAdjust="spacingAndGlyphs">Sep-</tspan><tspan x="79.6" font-size="34" textLength="91.6" lengthAdjust="spacingAndGlyphs">2022</tspan></text>
<text transform="translate(1275.8,894.3) rotate(90)"><tspan x="0" textLength="79.6" lengthAdjust="spacingAndGlyphs">Sep-</tspan><tspan x="79.6" font-size="34" textLength="69.2" lengthAdjust="spacingAndGlyphs">202</tspan><tspan x="148.8" y="6.8" font-size="43" textLength="22.1" lengthAdjust="spacingAndGlyphs">3</tspan></text>
<text transform="translate(1319.6,894.3) rotate(90)"><tspan x="0" textLength="79.6" lengthAdjust="spacingAndGlyphs">Sep-</tspan><tspan x="79.6" font-size="34" textLength="69.2" lengthAdjust="spacingAndGlyphs">202</tspan><tspan x="148.8" y="6.8" font-size="43" textLength="22.6" lengthAdjust="spacingAndGlyphs">4</tspan></text>
<text transform="translate(1363.3,894.3) rotate(90)"><tspan x="0" textLength="79.6" lengthAdjust="spacingAndGlyphs">Sep-</tspan><tspan x="79.6" font-size="34" textLength="69.2" lengthAdjust="spacingAndGlyphs">202</tspan><tspan x="148.8" y="6.8" font-size="43" textLength="21.1" lengthAdjust="spacingAndGlyphs">5</tspan></text>
<text transform="translate(1412.1,894.3) rotate(90)"><tspan x="0" textLength="85.2" lengthAdjust="spacingAndGlyphs">Aug-</tspan><tspan x="85.2" font-size="34" textLength="64.0" lengthAdjust="spacingAndGlyphs">201</tspan><tspan x="149.2" y="0" font-size="43" textLength="22.6" lengthAdjust="spacingAndGlyphs">6</tspan></text>
<text transform="translate(1455.9,894.3) rotate(90)"><tspan x="0" textLength="85.2" lengthAdjust="spacingAndGlyphs">Aug-</tspan><tspan x="85.2" font-size="34" textLength="64.0" lengthAdjust="spacingAndGlyphs">201</tspan><tspan x="149.2" y="6.8" font-size="43" textLength="20.1" lengthAdjust="spacingAndGlyphs">7</tspan></text>
<text transform="translate(1499.6,894.3) rotate(90)"><tspan x="0" textLength="85.2" lengthAdjust="spacingAndGlyphs">Aug-</tspan><tspan x="85.2" font-size="34" textLength="64.0" lengthAdjust="spacingAndGlyphs">201</tspan><tspan x="149.2" y="0" font-size="43" textLength="23.8" lengthAdjust="spacingAndGlyphs">8</tspan></text>
<text transform="translate(1543.4,894.3) rotate(90)"><tspan x="0" textLength="85.2" lengthAdjust="spacingAndGlyphs">Aug-</tspan><tspan x="85.2" font-size="34" textLength="64.0" lengthAdjust="spacingAndGlyphs">201</tspan><tspan x="149.2" y="6.8" font-size="43" textLength="22.6" lengthAdjust="spacingAndGlyphs">9</tspan></text>
<text transform="translate(1587.1,894.3) rotate(90)"><tspan x="0" textLength="85.2" lengthAdjust="spacingAndGlyphs">Aug-</tspan><tspan x="85.2" font-size="34" textLength="93.8" lengthAdjust="spacingAndGlyphs">2020</tspan></text>
<text transform="translate(1630.9,894.3) rotate(90)"><tspan x="0" textLength="85.2" lengthAdjust="spacingAndGlyphs">Aug-</tspan><tspan x="85.2" font-size="34" textLength="86.4" lengthAdjust="spacingAndGlyphs">2021</tspan></text>
<text transform="translate(1674.7,894.3) rotate(90)"><tspan x="0" textLength="85.2" lengthAdjust="spacingAndGlyphs">Aug-</tspan><tspan x="85.2" font-size="34" textLength="91.6" lengthAdjust="spacingAndGlyphs">2022</tspan></text>
<text transform="translate(1718.4,894.3) rotate(90)"><tspan x="0" textLength="85.2" lengthAdjust="spacingAndGlyphs">Aug-</tspan><tspan x="85.2" font-size="34" textLength="69.2" lengthAdjust="spacingAndGlyphs">202</tspan><tspan x="154.4" y="6.8" font-size="43" textLength="22.1" lengthAdjust="spacingAndGlyphs">3</tspan></text>
<text transform="translate(1762.2,894.3) rotate(90)"><tspan x="0" textLength="85.2" lengthAdjust="spacingAndGlyphs">Aug-</tspan><tspan x="85.2" font-size="34" textLength="69.2" lengthAdjust="spacingAndGlyphs">202</tspan><tspan x="154.4" y="6.8" font-size="43" textLength="22.6" lengthAdjust="spacingAndGlyphs">4</tspan></text>
<text transform="translate(1805.9,894.3) rotate(90)"><tspan x="0" textLength="85.2" lengthAdjust="spacingAndGlyphs">Aug-</tspan><tspan x="85.2" font-size="34" textLength="69.2" lengthAdjust="spacingAndGlyphs">202</tspan><tspan x="154.4" y="6.8" font-size="43" textLength="21.1" lengthAdjust="spacingAndGlyphs">5</tspan></text>
</g>
<g fill="#d3d3d3" shape-rendering="crispEdges">
<rect x="495" y="879" width="4" height="217"/>
<rect x="941" y="879" width="4" height="217"/>
<rect x="1387" y="879" width="4" height="217"/>
</g>
<g class="san" font-size="22" font-weight="bold" fill="#858585" text-anchor="middle">
<text x="273.6" y="1110.3">NPS</text>
<text x="719.9" y="1110.3">Other FIs</text>
<text x="1166.1" y="1110.3">Firms and households</text>
<text x="1612.4" y="1110.3">Banks</text>
</g>
</svg></body></html>
